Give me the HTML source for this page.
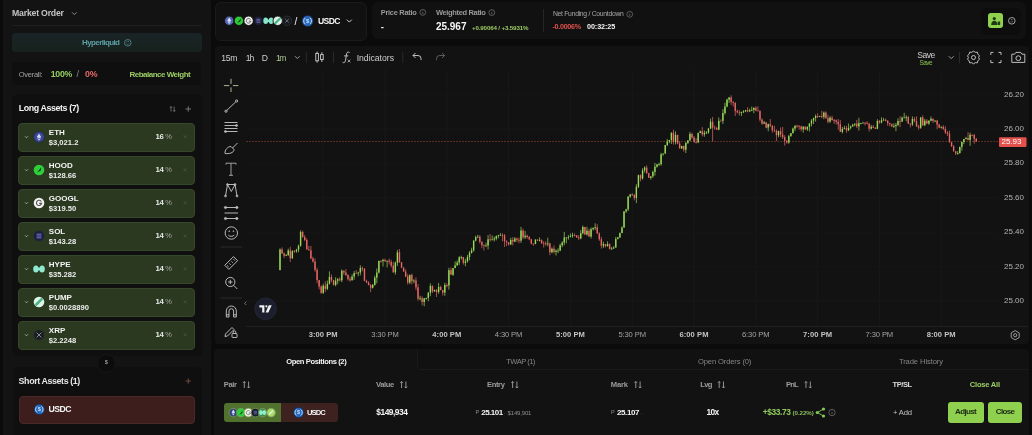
<!DOCTYPE html>
<html><head><meta charset="utf-8"><title>Pair Trade</title>
<style>
*{margin:0;padding:0;box-sizing:border-box}
html,body{width:1032px;height:435px;overflow:hidden;background:#0b0b0b;font-family:"Liberation Sans",Arial,sans-serif}
.a{position:absolute}
.t{position:absolute;white-space:pre;line-height:1}
svg{position:absolute;overflow:visible}
</style></head><body>

<!-- ============ LEFT PANEL ============ -->
<div class="a" style="left:3px;top:0;width:207.5px;height:435px;background:#131313"></div>
<div class="a" style="left:12px;top:25px;width:190px;height:1px;background:#1f1f1f"></div>
<div class="a" style="left:11.5px;top:32.5px;width:190px;height:19.8px;background:linear-gradient(#1a2427,#17221d);border-radius:4px"></div>
<div class="a" style="left:12px;top:62px;width:188.5px;height:22.5px;background:#0f0f0f;border-radius:4px"></div>
<div class="a" style="left:12px;top:94px;width:191px;height:262px;background:#0f0f0f;border-radius:6px"></div>
<div class="a" style="left:13px;top:367px;width:189px;height:68px;background:#0f0f0f;border-radius:6px 6px 0 0"></div>
<!-- cards -->
<div class="a" style="left:18px;top:122.5px;width:177px;height:29px;background:#2a391f;border:1px solid #37472b;border-radius:4px"></div>
<div class="a" style="left:18px;top:155.5px;width:177px;height:29px;background:#2a391f;border:1px solid #37472b;border-radius:4px"></div>
<div class="a" style="left:18px;top:188.5px;width:177px;height:29px;background:#2a391f;border:1px solid #37472b;border-radius:4px"></div>
<div class="a" style="left:18px;top:221.5px;width:177px;height:29px;background:#2a391f;border:1px solid #37472b;border-radius:4px"></div>
<div class="a" style="left:18px;top:254.5px;width:177px;height:29px;background:#2a391f;border:1px solid #37472b;border-radius:4px"></div>
<div class="a" style="left:18px;top:287.5px;width:177px;height:29px;background:#2a391f;border:1px solid #37472b;border-radius:4px"></div>
<div class="a" style="left:18px;top:320.5px;width:177px;height:29px;background:#2a391f;border:1px solid #37472b;border-radius:4px"></div>
<div class="a" style="left:18.5px;top:395.5px;width:176.5px;height:28px;background:#3d1e1c;border:1px solid #48282a;border-radius:4px"></div>
<!-- $ circle -->
<div class="a" style="left:97px;top:353.5px;width:19px;height:19px;border-radius:50%;background:#0c0c0c;border:1px solid #171717"></div>

<svg class="a" style="left:0;top:0" width="210" height="435" viewBox="0 0 210 435">
 <!-- market order chevron -->
 <path d="M72 12.3 L74.3 14.6 L76.6 12.3" fill="none" stroke="#9a9a9a" stroke-width="0.9"/>
 <!-- hyperliquid icon -->
 <circle cx="127.8" cy="42.8" r="3.3" fill="none" stroke="#4f8f92" stroke-width="0.8"/>
 <path d="M126.5 42.2 L127.8 40.9 L129.1 42.2 M126.5 43.4 L127.8 44.7 L129.1 43.4" fill="none" stroke="#4f8f92" stroke-width="0.7"/>
 <!-- sort + plus -->
 <path d="M171 106.5 V111.5 M169.8 107.7 L171 106.5 L172.2 107.7 M174.2 106.5 V111.5 M173 110.3 L174.2 111.5 L175.4 110.3" fill="none" stroke="#8a8a8a" stroke-width="0.7"/>
 <path d="M185.5 109 H191 M188.25 106.3 V111.7" stroke="#8a8a8a" stroke-width="0.8"/>
 <path d="M185.5 381 H191 M188.25 378.3 V383.7" stroke="#8a5048" stroke-width="0.8"/>
 <!-- card chevrons and x -->
 <g fill="none" stroke="#b8c2ae" stroke-width="0.8">
  <path d="M25 136.3 L26.5 137.8 L28 136.3"/><path d="M25 169.3 L26.5 170.8 L28 169.3"/><path d="M25 202.3 L26.5 203.8 L28 202.3"/><path d="M25 235.3 L26.5 236.8 L28 235.3"/><path d="M25 268.3 L26.5 269.8 L28 268.3"/><path d="M25 301.3 L26.5 302.8 L28 301.3"/><path d="M25 334.3 L26.5 335.8 L28 334.3"/>
 </g>
 <g fill="none" stroke="#4d5a43" stroke-width="0.7">
  <path d="M183.6 135.3 L186.6 138.3 M186.6 135.3 L183.6 138.3"/>
  <path d="M183.6 168.3 L186.6 171.3 M186.6 168.3 L183.6 171.3"/>
  <path d="M183.6 201.3 L186.6 204.3 M186.6 201.3 L183.6 204.3"/>
  <path d="M183.6 234.3 L186.6 237.3 M186.6 234.3 L183.6 237.3"/>
  <path d="M183.6 267.3 L186.6 270.3 M186.6 267.3 L183.6 270.3"/>
  <path d="M183.6 300.3 L186.6 303.3 M186.6 300.3 L183.6 303.3"/>
  <path d="M183.6 333.3 L186.6 336.3 M186.6 333.3 L183.6 336.3"/>
 </g>
 <!-- asset icons -->
 <!-- ETH -->
 <circle cx="39" cy="137" r="5.4" fill="#3d4892" stroke="#1f2544" stroke-width="0.8"/>
 <path d="M39 133.4 L41.2 137 L39 138.3 L36.8 137 Z M39 138.9 L41.2 137.6 L39 140.7 L36.8 137.6 Z" fill="#cfd6ff"/>
 <!-- HOOD -->
 <circle cx="39" cy="170" r="5.3" fill="#2fcf3c"/>
 <path d="M37 172.5 L41.3 167.2 L40.8 170.5 Z" fill="#0d3a10"/>
 <!-- GOOGL -->
 <circle cx="39" cy="203" r="5.3" fill="#f2f2f2"/>
 <path d="M41.3 201.6 A2.6 2.6 0 1 0 41.6 203.4 H39.2" fill="none" stroke="#555" stroke-width="1.1"/>
 <!-- SOL -->
 <circle cx="39" cy="236" r="5.3" fill="#1b2240"/>
 <path d="M36.6 234.2 H41.4 M36.6 236 H41.4 M36.6 237.8 H41.4" stroke="#8c7ce0" stroke-width="0.9"/>
 <!-- HYPE -->
 <g fill="#8fe8cf"><ellipse cx="35.9" cy="269" rx="2.7" ry="3.5"/><ellipse cx="42.1" cy="269" rx="2.7" ry="3.5"/><rect x="35.9" y="267.6" width="6.2" height="2.8"/></g>
 <!-- PUMP -->
 <circle cx="39" cy="302" r="5.3" fill="#dff5ea"/>
 <path d="M36.3 304.5 L41.7 299.1" stroke="#4fb286" stroke-width="2.6" stroke-linecap="round"/>
 <!-- XRP -->
 <circle cx="39" cy="335" r="5.3" fill="#1a1d21" stroke="#333" stroke-width="0.6"/>
 <path d="M36.6 332.6 L41.4 337.4 M41.4 332.6 L36.6 337.4" stroke="#9aa" stroke-width="0.8"/>
 <!-- USDC -->
 <circle cx="39.3" cy="409.4" r="5.3" fill="#2766b8" stroke="#15243d" stroke-width="0.7"/><path d="M37.17 406.36 A3.71 3.71 0 0 0 37.17 412.44 M41.43 406.36 A3.71 3.71 0 0 1 41.43 412.44" fill="none" stroke="#c4e0ff" stroke-width="0.9"/><text x="39.3" y="411.31" text-anchor="middle" font-family="Liberation Sans" font-weight="bold" font-size="5.57" fill="#c4e0ff">$</text>
</svg>

<!-- ============ TOP BAR ============ -->
<div class="a" style="left:214.5px;top:2px;width:152px;height:38.5px;background:#111111;border:1px solid #1a1a1a;border-radius:6px"></div>
<div class="a" style="left:372px;top:2px;width:654px;height:36.5px;background:#111111;border-radius:6px"></div>
<div class="a" style="left:543px;top:9px;width:1px;height:23px;background:#262626"></div>
<div class="a" style="left:981px;top:7.5px;width:40px;height:27px;background:#0d0d0d;border-radius:6px"></div>
<div class="a" style="left:988px;top:13.4px;width:15px;height:14.6px;background:#8fd14f;border-radius:3px"></div>
<svg class="a" style="left:0;top:0" width="1032" height="45" viewBox="0 0 1032 45">
 <!-- pair icons -->
 <g stroke="#121212" stroke-width="0.9">
 <circle cx="229.2" cy="20.8" r="4.7" fill="#5867b6"/>
 <circle cx="238.9" cy="20.8" r="4.7" fill="#2ec83a"/>
 <circle cx="248.6" cy="20.8" r="4.7" fill="#f0f0f0"/>
 <circle cx="258.3" cy="20.8" r="4.7" fill="#1b2137"/>
 </g>
 <path d="M229.2 17.6 L231.1 20.8 L229.2 21.9 L227.3 20.8 Z M229.2 22.5 L231.1 21.3 L229.2 24 L227.3 21.3 Z" fill="#dfe4ff"/>
 <path d="M237.2 23 L240.9 18.4 L240.5 21.3 Z" fill="#0c3b10"/>
 <path d="M250.6 19.6 A2.3 2.3 0 1 0 250.9 21.2 H248.8" fill="none" stroke="#666" stroke-width="1"/>
 <path d="M256.4 19.3 H260.2 M256.4 20.8 H260.2 M256.4 22.3 H260.2" stroke="#7d74cf" stroke-width="0.8"/>
 <g fill="#86e6cb"><ellipse cx="265.7" cy="20.8" rx="2.4" ry="3.2"/><ellipse cx="271.1" cy="20.8" rx="2.4" ry="3.2"/><rect x="265.7" y="19.6" width="5.4" height="2.4"/></g>
 <circle cx="277.7" cy="20.8" r="4.7" fill="#dff3ea" stroke="#121212" stroke-width="0.9"/>
 <path d="M275.6 22.9 L279.8 18.7" stroke="#4db584" stroke-width="2.2" stroke-linecap="round"/>
 <circle cx="287" cy="20.8" r="4.7" fill="#15181c" stroke="#3a3f44" stroke-width="0.6"/>
 <path d="M285.2 19 L288.8 22.6 M288.8 19 L285.2 22.6" stroke="#8c9399" stroke-width="0.7"/>
 <!-- usdc -->
 <circle cx="307.6" cy="21.0" r="5.6" fill="#2766b8" stroke="#15243d" stroke-width="0.7"/><path d="M305.35 17.79 A3.92 3.92 0 0 0 305.35 24.21 M309.85 17.79 A3.92 3.92 0 0 1 309.85 24.21" fill="none" stroke="#c4e0ff" stroke-width="0.9"/><text x="307.6" y="23.02" text-anchor="middle" font-family="Liberation Sans" font-weight="bold" font-size="5.88" fill="#c4e0ff">$</text>
 <path d="M346.8 19.6 L349.3 22.1 L351.8 19.6" fill="none" stroke="#d0d0d0" stroke-width="1"/>
 <!-- info icons -->
 <g fill="none" stroke="#8a8a8a" stroke-width="0.6">
  <circle cx="422.8" cy="12.4" r="2.9"/><path d="M422.8 11.8 V14 M422.8 10.7 V11"/>
  <circle cx="491.8" cy="12.6" r="2.9"/><path d="M491.8 12 V14.2 M491.8 10.9 V11.2"/>
  <circle cx="629.7" cy="14.3" r="2.9"/><path d="M629.7 13.7 V15.9 M629.7 12.6 V12.9"/>
 </g>
 <!-- green button icon -->
 <g fill="#1f3a12"><circle cx="994.3" cy="18.6" r="1.6"/><path d="M991.2 25 C991.2 21.8 992.6 20.8 994.3 20.8 C996 20.8 997.4 21.8 997.4 25 Z"/><rect x="997.6" y="21.6" width="2.6" height="3.4" rx="0.4"/></g>
 <!-- updown circle -->
 <circle cx="1011.8" cy="20.8" r="3.3" fill="none" stroke="#c4c4c4" stroke-width="0.8"/>
 <path d="M1010.9 20.2 L1011.8 19.3 L1012.7 20.2 M1010.9 21.4 L1011.8 22.3 L1012.7 21.4" fill="none" stroke="#c4c4c4" stroke-width="0.6"/>
</svg>

<!-- ============ CHART PANEL ============ -->
<div class="a" style="left:214.5px;top:45.5px;width:814px;height:298.5px;background:#121213;border-radius:4px"></div>
<div class="a" style="left:246px;top:326px;width:782px;height:1px;background:#202022"></div>
<svg class="a" style="left:0;top:0" width="1032" height="345" viewBox="0 0 1032 345">
<line x1="323.2" y1="70" x2="323.2" y2="326" stroke="#19191b" stroke-width="1"/>
<line x1="385.0" y1="70" x2="385.0" y2="326" stroke="#19191b" stroke-width="1"/>
<line x1="446.8" y1="70" x2="446.8" y2="326" stroke="#19191b" stroke-width="1"/>
<line x1="508.6" y1="70" x2="508.6" y2="326" stroke="#19191b" stroke-width="1"/>
<line x1="570.4" y1="70" x2="570.4" y2="326" stroke="#19191b" stroke-width="1"/>
<line x1="632.2" y1="70" x2="632.2" y2="326" stroke="#19191b" stroke-width="1"/>
<line x1="694.0" y1="70" x2="694.0" y2="326" stroke="#19191b" stroke-width="1"/>
<line x1="755.8" y1="70" x2="755.8" y2="326" stroke="#19191b" stroke-width="1"/>
<line x1="817.6" y1="70" x2="817.6" y2="326" stroke="#19191b" stroke-width="1"/>
<line x1="879.4" y1="70" x2="879.4" y2="326" stroke="#19191b" stroke-width="1"/>
<line x1="941.2" y1="70" x2="941.2" y2="326" stroke="#19191b" stroke-width="1"/>
<line x1="246" y1="94.6" x2="998" y2="94.6" stroke="#171719" stroke-width="1"/>
<line x1="246" y1="129.0" x2="998" y2="129.0" stroke="#171719" stroke-width="1"/>
<line x1="246" y1="163.4" x2="998" y2="163.4" stroke="#171719" stroke-width="1"/>
<line x1="246" y1="198.0" x2="998" y2="198.0" stroke="#171719" stroke-width="1"/>
<line x1="246" y1="232.2" x2="998" y2="232.2" stroke="#171719" stroke-width="1"/>
<line x1="246" y1="266.6" x2="998" y2="266.6" stroke="#171719" stroke-width="1"/>
<line x1="246" y1="301.0" x2="998" y2="301.0" stroke="#171719" stroke-width="1"/>
 <!-- price line -->
 <line x1="246" y1="141.5" x2="998" y2="141.5" stroke="#5a2e24" stroke-width="1" stroke-dasharray="2 1"/>
<line x1="280.00" y1="248.37" x2="280.00" y2="270.50" stroke="#98d957" stroke-width="0.7"/>
<rect x="279.30" y="249.50" width="1.4" height="20.50" fill="#98d957"/>
<line x1="282.06" y1="247.45" x2="282.06" y2="253.91" stroke="#e66764" stroke-width="0.7"/>
<rect x="281.36" y="249.50" width="1.4" height="3.94" fill="#e66764"/>
<line x1="284.12" y1="252.51" x2="284.12" y2="257.96" stroke="#e66764" stroke-width="0.7"/>
<rect x="283.42" y="253.44" width="1.4" height="2.24" fill="#e66764"/>
<line x1="286.18" y1="254.11" x2="286.18" y2="256.09" stroke="#98d957" stroke-width="0.7"/>
<rect x="285.48" y="254.98" width="1.4" height="0.80" fill="#98d957"/>
<line x1="288.24" y1="248.61" x2="288.24" y2="256.09" stroke="#98d957" stroke-width="0.7"/>
<rect x="287.54" y="250.50" width="1.4" height="4.48" fill="#98d957"/>
<line x1="290.30" y1="246.77" x2="290.30" y2="262.06" stroke="#e66764" stroke-width="0.7"/>
<rect x="289.60" y="250.50" width="1.4" height="7.73" fill="#e66764"/>
<line x1="292.36" y1="250.17" x2="292.36" y2="258.89" stroke="#98d957" stroke-width="0.7"/>
<rect x="291.66" y="251.20" width="1.4" height="7.02" fill="#98d957"/>
<line x1="294.42" y1="250.06" x2="294.42" y2="252.71" stroke="#e66764" stroke-width="0.7"/>
<rect x="293.72" y="251.20" width="1.4" height="0.80" fill="#e66764"/>
<line x1="296.48" y1="248.81" x2="296.48" y2="252.75" stroke="#98d957" stroke-width="0.7"/>
<rect x="295.78" y="249.68" width="1.4" height="1.61" fill="#98d957"/>
<line x1="298.54" y1="244.57" x2="298.54" y2="252.31" stroke="#98d957" stroke-width="0.7"/>
<rect x="297.84" y="245.80" width="1.4" height="3.89" fill="#98d957"/>
<line x1="300.60" y1="230.39" x2="300.60" y2="246.55" stroke="#98d957" stroke-width="0.7"/>
<rect x="299.90" y="232.01" width="1.4" height="13.78" fill="#98d957"/>
<line x1="302.66" y1="230.62" x2="302.66" y2="237.64" stroke="#e66764" stroke-width="0.7"/>
<rect x="301.96" y="232.01" width="1.4" height="5.08" fill="#e66764"/>
<line x1="304.72" y1="234.99" x2="304.72" y2="241.15" stroke="#e66764" stroke-width="0.7"/>
<rect x="304.02" y="237.09" width="1.4" height="2.92" fill="#e66764"/>
<line x1="306.78" y1="238.23" x2="306.78" y2="249.81" stroke="#e66764" stroke-width="0.7"/>
<rect x="306.08" y="240.01" width="1.4" height="9.26" fill="#e66764"/>
<line x1="308.84" y1="245.99" x2="308.84" y2="250.44" stroke="#e66764" stroke-width="0.7"/>
<rect x="308.14" y="249.27" width="1.4" height="1.06" fill="#e66764"/>
<line x1="310.90" y1="245.90" x2="310.90" y2="259.19" stroke="#e66764" stroke-width="0.7"/>
<rect x="310.20" y="250.33" width="1.4" height="8.15" fill="#e66764"/>
<line x1="312.96" y1="256.68" x2="312.96" y2="262.61" stroke="#e66764" stroke-width="0.7"/>
<rect x="312.26" y="258.48" width="1.4" height="3.03" fill="#e66764"/>
<line x1="315.02" y1="258.29" x2="315.02" y2="271.70" stroke="#e66764" stroke-width="0.7"/>
<rect x="314.32" y="261.51" width="1.4" height="8.37" fill="#e66764"/>
<line x1="317.08" y1="267.80" x2="317.08" y2="283.27" stroke="#e66764" stroke-width="0.7"/>
<rect x="316.38" y="269.88" width="1.4" height="10.22" fill="#e66764"/>
<line x1="319.14" y1="279.84" x2="319.14" y2="289.39" stroke="#e66764" stroke-width="0.7"/>
<rect x="318.44" y="280.10" width="1.4" height="6.43" fill="#e66764"/>
<line x1="321.20" y1="285.19" x2="321.20" y2="293.83" stroke="#e66764" stroke-width="0.7"/>
<rect x="320.50" y="286.53" width="1.4" height="6.30" fill="#e66764"/>
<line x1="323.26" y1="283.67" x2="323.26" y2="294.00" stroke="#98d957" stroke-width="0.7"/>
<rect x="322.56" y="285.80" width="1.4" height="7.03" fill="#98d957"/>
<line x1="325.32" y1="281.33" x2="325.32" y2="292.03" stroke="#e66764" stroke-width="0.7"/>
<rect x="324.62" y="285.80" width="1.4" height="3.02" fill="#e66764"/>
<line x1="327.38" y1="280.59" x2="327.38" y2="290.10" stroke="#98d957" stroke-width="0.7"/>
<rect x="326.68" y="283.77" width="1.4" height="5.06" fill="#98d957"/>
<line x1="329.44" y1="271.38" x2="329.44" y2="284.55" stroke="#98d957" stroke-width="0.7"/>
<rect x="328.74" y="276.92" width="1.4" height="6.85" fill="#98d957"/>
<line x1="331.50" y1="274.46" x2="331.50" y2="282.29" stroke="#e66764" stroke-width="0.7"/>
<rect x="330.80" y="276.92" width="1.4" height="3.22" fill="#e66764"/>
<line x1="333.56" y1="279.80" x2="333.56" y2="285.51" stroke="#e66764" stroke-width="0.7"/>
<rect x="332.86" y="280.14" width="1.4" height="4.82" fill="#e66764"/>
<line x1="335.62" y1="277.26" x2="335.62" y2="286.33" stroke="#98d957" stroke-width="0.7"/>
<rect x="334.92" y="280.77" width="1.4" height="4.20" fill="#98d957"/>
<line x1="337.68" y1="278.00" x2="337.68" y2="284.22" stroke="#98d957" stroke-width="0.7"/>
<rect x="336.98" y="279.21" width="1.4" height="1.56" fill="#98d957"/>
<line x1="339.74" y1="277.11" x2="339.74" y2="281.44" stroke="#e66764" stroke-width="0.7"/>
<rect x="339.04" y="279.21" width="1.4" height="1.07" fill="#e66764"/>
<line x1="341.80" y1="269.37" x2="341.80" y2="282.13" stroke="#98d957" stroke-width="0.7"/>
<rect x="341.10" y="270.76" width="1.4" height="9.51" fill="#98d957"/>
<line x1="343.86" y1="270.36" x2="343.86" y2="274.76" stroke="#e66764" stroke-width="0.7"/>
<rect x="343.16" y="270.76" width="1.4" height="1.76" fill="#e66764"/>
<line x1="345.92" y1="268.98" x2="345.92" y2="276.20" stroke="#e66764" stroke-width="0.7"/>
<rect x="345.22" y="272.52" width="1.4" height="2.47" fill="#e66764"/>
<line x1="347.98" y1="274.27" x2="347.98" y2="280.55" stroke="#e66764" stroke-width="0.7"/>
<rect x="347.28" y="274.99" width="1.4" height="4.13" fill="#e66764"/>
<line x1="350.04" y1="276.60" x2="350.04" y2="281.80" stroke="#e66764" stroke-width="0.7"/>
<rect x="349.34" y="279.12" width="1.4" height="1.23" fill="#e66764"/>
<line x1="352.10" y1="274.28" x2="352.10" y2="280.40" stroke="#98d957" stroke-width="0.7"/>
<rect x="351.40" y="276.57" width="1.4" height="3.77" fill="#98d957"/>
<line x1="354.16" y1="270.99" x2="354.16" y2="279.80" stroke="#98d957" stroke-width="0.7"/>
<rect x="353.46" y="273.08" width="1.4" height="3.50" fill="#98d957"/>
<line x1="356.22" y1="270.04" x2="356.22" y2="273.39" stroke="#e66764" stroke-width="0.7"/>
<rect x="355.52" y="273.08" width="1.4" height="0.80" fill="#e66764"/>
<line x1="358.28" y1="271.84" x2="358.28" y2="276.19" stroke="#98d957" stroke-width="0.7"/>
<rect x="357.58" y="272.50" width="1.4" height="0.80" fill="#98d957"/>
<line x1="360.34" y1="265.27" x2="360.34" y2="275.29" stroke="#98d957" stroke-width="0.7"/>
<rect x="359.64" y="268.04" width="1.4" height="4.46" fill="#98d957"/>
<line x1="362.40" y1="266.65" x2="362.40" y2="271.30" stroke="#e66764" stroke-width="0.7"/>
<rect x="361.70" y="268.04" width="1.4" height="0.80" fill="#e66764"/>
<line x1="364.46" y1="268.06" x2="364.46" y2="281.26" stroke="#e66764" stroke-width="0.7"/>
<rect x="363.76" y="268.81" width="1.4" height="12.13" fill="#e66764"/>
<line x1="366.52" y1="279.68" x2="366.52" y2="282.90" stroke="#e66764" stroke-width="0.7"/>
<rect x="365.82" y="280.95" width="1.4" height="1.57" fill="#e66764"/>
<line x1="368.58" y1="281.25" x2="368.58" y2="285.18" stroke="#e66764" stroke-width="0.7"/>
<rect x="367.88" y="282.51" width="1.4" height="2.66" fill="#e66764"/>
<line x1="370.64" y1="283.93" x2="370.64" y2="292.19" stroke="#e66764" stroke-width="0.7"/>
<rect x="369.94" y="285.18" width="1.4" height="2.59" fill="#e66764"/>
<line x1="372.70" y1="284.00" x2="372.70" y2="288.58" stroke="#98d957" stroke-width="0.7"/>
<rect x="372.00" y="284.94" width="1.4" height="2.82" fill="#98d957"/>
<line x1="374.76" y1="275.65" x2="374.76" y2="285.68" stroke="#98d957" stroke-width="0.7"/>
<rect x="374.06" y="277.68" width="1.4" height="7.26" fill="#98d957"/>
<line x1="376.82" y1="268.53" x2="376.82" y2="283.32" stroke="#98d957" stroke-width="0.7"/>
<rect x="376.12" y="272.57" width="1.4" height="5.11" fill="#98d957"/>
<line x1="378.88" y1="260.51" x2="378.88" y2="273.45" stroke="#98d957" stroke-width="0.7"/>
<rect x="378.18" y="261.04" width="1.4" height="11.53" fill="#98d957"/>
<line x1="380.94" y1="260.09" x2="380.94" y2="262.58" stroke="#e66764" stroke-width="0.7"/>
<rect x="380.24" y="261.04" width="1.4" height="0.80" fill="#e66764"/>
<line x1="383.00" y1="258.75" x2="383.00" y2="266.48" stroke="#98d957" stroke-width="0.7"/>
<rect x="382.30" y="259.90" width="1.4" height="1.23" fill="#98d957"/>
<line x1="385.06" y1="258.68" x2="385.06" y2="261.59" stroke="#e66764" stroke-width="0.7"/>
<rect x="384.36" y="259.90" width="1.4" height="1.47" fill="#e66764"/>
<line x1="387.12" y1="260.61" x2="387.12" y2="267.37" stroke="#98d957" stroke-width="0.7"/>
<rect x="386.42" y="260.75" width="1.4" height="0.80" fill="#98d957"/>
<line x1="389.18" y1="258.53" x2="389.18" y2="264.43" stroke="#e66764" stroke-width="0.7"/>
<rect x="388.48" y="260.75" width="1.4" height="1.11" fill="#e66764"/>
<line x1="391.24" y1="259.76" x2="391.24" y2="267.56" stroke="#e66764" stroke-width="0.7"/>
<rect x="390.54" y="261.86" width="1.4" height="3.82" fill="#e66764"/>
<line x1="393.30" y1="261.93" x2="393.30" y2="273.02" stroke="#e66764" stroke-width="0.7"/>
<rect x="392.60" y="265.67" width="1.4" height="6.57" fill="#e66764"/>
<line x1="395.36" y1="261.41" x2="395.36" y2="274.65" stroke="#98d957" stroke-width="0.7"/>
<rect x="394.66" y="262.78" width="1.4" height="9.47" fill="#98d957"/>
<line x1="397.42" y1="249.88" x2="397.42" y2="265.96" stroke="#98d957" stroke-width="0.7"/>
<rect x="396.72" y="252.27" width="1.4" height="10.50" fill="#98d957"/>
<line x1="399.48" y1="248.99" x2="399.48" y2="262.75" stroke="#e66764" stroke-width="0.7"/>
<rect x="398.78" y="252.27" width="1.4" height="10.08" fill="#e66764"/>
<line x1="401.54" y1="262.03" x2="401.54" y2="268.09" stroke="#e66764" stroke-width="0.7"/>
<rect x="400.84" y="262.36" width="1.4" height="5.31" fill="#e66764"/>
<line x1="403.60" y1="267.36" x2="403.60" y2="271.75" stroke="#e66764" stroke-width="0.7"/>
<rect x="402.90" y="267.67" width="1.4" height="3.88" fill="#e66764"/>
<line x1="405.66" y1="269.24" x2="405.66" y2="277.21" stroke="#e66764" stroke-width="0.7"/>
<rect x="404.96" y="271.55" width="1.4" height="5.02" fill="#e66764"/>
<line x1="407.72" y1="274.04" x2="407.72" y2="284.52" stroke="#e66764" stroke-width="0.7"/>
<rect x="407.02" y="276.57" width="1.4" height="5.94" fill="#e66764"/>
<line x1="409.78" y1="274.64" x2="409.78" y2="284.06" stroke="#98d957" stroke-width="0.7"/>
<rect x="409.08" y="274.93" width="1.4" height="7.58" fill="#98d957"/>
<line x1="411.84" y1="273.52" x2="411.84" y2="284.49" stroke="#e66764" stroke-width="0.7"/>
<rect x="411.14" y="274.93" width="1.4" height="6.20" fill="#e66764"/>
<line x1="413.90" y1="279.18" x2="413.90" y2="283.25" stroke="#98d957" stroke-width="0.7"/>
<rect x="413.20" y="280.53" width="1.4" height="0.80" fill="#98d957"/>
<line x1="415.96" y1="277.30" x2="415.96" y2="290.14" stroke="#e66764" stroke-width="0.7"/>
<rect x="415.26" y="280.53" width="1.4" height="6.83" fill="#e66764"/>
<line x1="418.02" y1="284.11" x2="418.02" y2="300.76" stroke="#e66764" stroke-width="0.7"/>
<rect x="417.32" y="287.35" width="1.4" height="11.34" fill="#e66764"/>
<line x1="420.08" y1="295.77" x2="420.08" y2="300.38" stroke="#98d957" stroke-width="0.7"/>
<rect x="419.38" y="298.28" width="1.4" height="0.80" fill="#98d957"/>
<line x1="422.14" y1="296.32" x2="422.14" y2="305.40" stroke="#e66764" stroke-width="0.7"/>
<rect x="421.44" y="298.28" width="1.4" height="3.69" fill="#e66764"/>
<line x1="424.20" y1="297.94" x2="424.20" y2="306.31" stroke="#98d957" stroke-width="0.7"/>
<rect x="423.50" y="298.33" width="1.4" height="3.64" fill="#98d957"/>
<line x1="426.26" y1="297.74" x2="426.26" y2="299.65" stroke="#98d957" stroke-width="0.7"/>
<rect x="425.56" y="297.95" width="1.4" height="0.80" fill="#98d957"/>
<line x1="428.32" y1="291.99" x2="428.32" y2="301.25" stroke="#98d957" stroke-width="0.7"/>
<rect x="427.62" y="292.89" width="1.4" height="5.06" fill="#98d957"/>
<line x1="430.38" y1="283.38" x2="430.38" y2="296.17" stroke="#98d957" stroke-width="0.7"/>
<rect x="429.68" y="285.88" width="1.4" height="7.02" fill="#98d957"/>
<line x1="432.44" y1="285.48" x2="432.44" y2="292.96" stroke="#e66764" stroke-width="0.7"/>
<rect x="431.74" y="285.88" width="1.4" height="5.44" fill="#e66764"/>
<line x1="434.50" y1="289.61" x2="434.50" y2="291.59" stroke="#98d957" stroke-width="0.7"/>
<rect x="433.80" y="289.86" width="1.4" height="1.46" fill="#98d957"/>
<line x1="436.56" y1="289.28" x2="436.56" y2="297.03" stroke="#e66764" stroke-width="0.7"/>
<rect x="435.86" y="289.86" width="1.4" height="2.12" fill="#e66764"/>
<line x1="438.62" y1="282.93" x2="438.62" y2="293.78" stroke="#98d957" stroke-width="0.7"/>
<rect x="437.92" y="287.01" width="1.4" height="4.97" fill="#98d957"/>
<line x1="440.68" y1="285.66" x2="440.68" y2="290.11" stroke="#e66764" stroke-width="0.7"/>
<rect x="439.98" y="287.01" width="1.4" height="3.08" fill="#e66764"/>
<line x1="442.74" y1="289.91" x2="442.74" y2="295.48" stroke="#e66764" stroke-width="0.7"/>
<rect x="442.04" y="290.09" width="1.4" height="2.47" fill="#e66764"/>
<line x1="444.80" y1="282.72" x2="444.80" y2="295.84" stroke="#98d957" stroke-width="0.7"/>
<rect x="444.10" y="285.00" width="1.4" height="7.56" fill="#98d957"/>
<line x1="446.86" y1="283.53" x2="446.86" y2="287.37" stroke="#e66764" stroke-width="0.7"/>
<rect x="446.16" y="285.00" width="1.4" height="0.80" fill="#e66764"/>
<line x1="448.92" y1="267.77" x2="448.92" y2="289.75" stroke="#98d957" stroke-width="0.7"/>
<rect x="448.22" y="270.16" width="1.4" height="15.27" fill="#98d957"/>
<line x1="450.98" y1="267.45" x2="450.98" y2="274.72" stroke="#e66764" stroke-width="0.7"/>
<rect x="450.28" y="270.16" width="1.4" height="4.54" fill="#e66764"/>
<line x1="453.04" y1="268.02" x2="453.04" y2="276.00" stroke="#98d957" stroke-width="0.7"/>
<rect x="452.34" y="268.09" width="1.4" height="6.61" fill="#98d957"/>
<line x1="455.10" y1="261.43" x2="455.10" y2="268.18" stroke="#98d957" stroke-width="0.7"/>
<rect x="454.40" y="265.37" width="1.4" height="2.72" fill="#98d957"/>
<line x1="457.16" y1="260.42" x2="457.16" y2="265.81" stroke="#98d957" stroke-width="0.7"/>
<rect x="456.46" y="262.62" width="1.4" height="2.75" fill="#98d957"/>
<line x1="459.22" y1="256.19" x2="459.22" y2="264.98" stroke="#98d957" stroke-width="0.7"/>
<rect x="458.52" y="257.41" width="1.4" height="5.21" fill="#98d957"/>
<line x1="461.28" y1="255.72" x2="461.28" y2="259.62" stroke="#98d957" stroke-width="0.7"/>
<rect x="460.58" y="257.03" width="1.4" height="0.80" fill="#98d957"/>
<line x1="463.34" y1="257.02" x2="463.34" y2="264.59" stroke="#e66764" stroke-width="0.7"/>
<rect x="462.64" y="257.03" width="1.4" height="5.79" fill="#e66764"/>
<line x1="465.40" y1="258.79" x2="465.40" y2="266.26" stroke="#98d957" stroke-width="0.7"/>
<rect x="464.70" y="261.38" width="1.4" height="1.44" fill="#98d957"/>
<line x1="467.46" y1="254.95" x2="467.46" y2="262.63" stroke="#98d957" stroke-width="0.7"/>
<rect x="466.76" y="256.98" width="1.4" height="4.41" fill="#98d957"/>
<line x1="469.52" y1="251.07" x2="469.52" y2="260.35" stroke="#98d957" stroke-width="0.7"/>
<rect x="468.82" y="252.76" width="1.4" height="4.21" fill="#98d957"/>
<line x1="471.58" y1="247.71" x2="471.58" y2="253.57" stroke="#98d957" stroke-width="0.7"/>
<rect x="470.88" y="250.31" width="1.4" height="2.46" fill="#98d957"/>
<line x1="473.64" y1="239.96" x2="473.64" y2="251.72" stroke="#98d957" stroke-width="0.7"/>
<rect x="472.94" y="240.69" width="1.4" height="9.62" fill="#98d957"/>
<line x1="475.70" y1="235.59" x2="475.70" y2="241.29" stroke="#98d957" stroke-width="0.7"/>
<rect x="475.00" y="237.18" width="1.4" height="3.50" fill="#98d957"/>
<line x1="477.76" y1="234.83" x2="477.76" y2="237.82" stroke="#98d957" stroke-width="0.7"/>
<rect x="477.06" y="236.75" width="1.4" height="0.80" fill="#98d957"/>
<line x1="479.82" y1="235.03" x2="479.82" y2="243.50" stroke="#e66764" stroke-width="0.7"/>
<rect x="479.12" y="236.75" width="1.4" height="5.10" fill="#e66764"/>
<line x1="481.88" y1="241.14" x2="481.88" y2="248.22" stroke="#e66764" stroke-width="0.7"/>
<rect x="481.18" y="241.86" width="1.4" height="3.43" fill="#e66764"/>
<line x1="483.94" y1="244.29" x2="483.94" y2="250.68" stroke="#e66764" stroke-width="0.7"/>
<rect x="483.24" y="245.28" width="1.4" height="0.81" fill="#e66764"/>
<line x1="486.00" y1="242.68" x2="486.00" y2="246.75" stroke="#98d957" stroke-width="0.7"/>
<rect x="485.30" y="245.56" width="1.4" height="0.80" fill="#98d957"/>
<line x1="488.06" y1="235.06" x2="488.06" y2="249.43" stroke="#98d957" stroke-width="0.7"/>
<rect x="487.36" y="239.33" width="1.4" height="6.23" fill="#98d957"/>
<line x1="490.12" y1="234.00" x2="490.12" y2="241.75" stroke="#e66764" stroke-width="0.7"/>
<rect x="489.42" y="239.33" width="1.4" height="0.80" fill="#e66764"/>
<line x1="492.18" y1="235.38" x2="492.18" y2="239.97" stroke="#98d957" stroke-width="0.7"/>
<rect x="491.48" y="239.53" width="1.4" height="0.80" fill="#98d957"/>
<line x1="494.24" y1="236.56" x2="494.24" y2="241.52" stroke="#98d957" stroke-width="0.7"/>
<rect x="493.54" y="238.54" width="1.4" height="0.98" fill="#98d957"/>
<line x1="496.30" y1="235.50" x2="496.30" y2="240.36" stroke="#98d957" stroke-width="0.7"/>
<rect x="495.60" y="236.15" width="1.4" height="2.40" fill="#98d957"/>
<line x1="498.36" y1="234.81" x2="498.36" y2="238.38" stroke="#98d957" stroke-width="0.7"/>
<rect x="497.66" y="235.24" width="1.4" height="0.90" fill="#98d957"/>
<line x1="500.42" y1="233.16" x2="500.42" y2="235.46" stroke="#98d957" stroke-width="0.7"/>
<rect x="499.72" y="235.12" width="1.4" height="0.80" fill="#98d957"/>
<line x1="502.48" y1="233.27" x2="502.48" y2="241.22" stroke="#e66764" stroke-width="0.7"/>
<rect x="501.78" y="235.12" width="1.4" height="0.80" fill="#e66764"/>
<line x1="504.54" y1="233.96" x2="504.54" y2="247.02" stroke="#e66764" stroke-width="0.7"/>
<rect x="503.84" y="235.36" width="1.4" height="5.96" fill="#e66764"/>
<line x1="506.60" y1="240.26" x2="506.60" y2="246.05" stroke="#e66764" stroke-width="0.7"/>
<rect x="505.90" y="241.32" width="1.4" height="1.03" fill="#e66764"/>
<line x1="508.66" y1="242.20" x2="508.66" y2="245.53" stroke="#e66764" stroke-width="0.7"/>
<rect x="507.96" y="242.35" width="1.4" height="2.03" fill="#e66764"/>
<line x1="510.72" y1="237.78" x2="510.72" y2="245.09" stroke="#98d957" stroke-width="0.7"/>
<rect x="510.02" y="240.05" width="1.4" height="4.33" fill="#98d957"/>
<line x1="512.78" y1="237.13" x2="512.78" y2="245.51" stroke="#e66764" stroke-width="0.7"/>
<rect x="512.08" y="240.05" width="1.4" height="1.48" fill="#e66764"/>
<line x1="514.84" y1="237.08" x2="514.84" y2="242.17" stroke="#98d957" stroke-width="0.7"/>
<rect x="514.14" y="238.55" width="1.4" height="2.98" fill="#98d957"/>
<line x1="516.90" y1="237.67" x2="516.90" y2="241.99" stroke="#e66764" stroke-width="0.7"/>
<rect x="516.20" y="238.55" width="1.4" height="1.30" fill="#e66764"/>
<line x1="518.96" y1="237.56" x2="518.96" y2="243.32" stroke="#e66764" stroke-width="0.7"/>
<rect x="518.26" y="239.85" width="1.4" height="0.85" fill="#e66764"/>
<line x1="521.02" y1="226.82" x2="521.02" y2="242.87" stroke="#98d957" stroke-width="0.7"/>
<rect x="520.32" y="230.57" width="1.4" height="10.13" fill="#98d957"/>
<line x1="523.08" y1="228.78" x2="523.08" y2="239.19" stroke="#e66764" stroke-width="0.7"/>
<rect x="522.38" y="230.57" width="1.4" height="6.70" fill="#e66764"/>
<line x1="525.14" y1="230.99" x2="525.14" y2="238.91" stroke="#98d957" stroke-width="0.7"/>
<rect x="524.44" y="235.74" width="1.4" height="1.53" fill="#98d957"/>
<line x1="527.20" y1="234.59" x2="527.20" y2="238.67" stroke="#e66764" stroke-width="0.7"/>
<rect x="526.50" y="235.74" width="1.4" height="1.32" fill="#e66764"/>
<line x1="529.26" y1="236.06" x2="529.26" y2="240.12" stroke="#e66764" stroke-width="0.7"/>
<rect x="528.56" y="237.06" width="1.4" height="2.22" fill="#e66764"/>
<line x1="531.32" y1="238.83" x2="531.32" y2="244.33" stroke="#e66764" stroke-width="0.7"/>
<rect x="530.62" y="239.29" width="1.4" height="4.33" fill="#e66764"/>
<line x1="533.38" y1="243.51" x2="533.38" y2="245.80" stroke="#e66764" stroke-width="0.7"/>
<rect x="532.68" y="243.62" width="1.4" height="0.80" fill="#e66764"/>
<line x1="535.44" y1="239.50" x2="535.44" y2="244.23" stroke="#98d957" stroke-width="0.7"/>
<rect x="534.74" y="239.50" width="1.4" height="4.49" fill="#98d957"/>
<line x1="537.50" y1="239.50" x2="537.50" y2="240.85" stroke="#e66764" stroke-width="0.7"/>
<rect x="536.80" y="239.50" width="1.4" height="0.96" fill="#e66764"/>
<line x1="539.56" y1="237.43" x2="539.56" y2="241.39" stroke="#98d957" stroke-width="0.7"/>
<rect x="538.86" y="240.20" width="1.4" height="0.80" fill="#98d957"/>
<line x1="541.62" y1="239.25" x2="541.62" y2="243.76" stroke="#e66764" stroke-width="0.7"/>
<rect x="540.92" y="240.20" width="1.4" height="3.14" fill="#e66764"/>
<line x1="543.68" y1="241.22" x2="543.68" y2="247.54" stroke="#e66764" stroke-width="0.7"/>
<rect x="542.98" y="243.35" width="1.4" height="0.80" fill="#e66764"/>
<line x1="545.74" y1="241.32" x2="545.74" y2="245.76" stroke="#e66764" stroke-width="0.7"/>
<rect x="545.04" y="243.37" width="1.4" height="0.80" fill="#e66764"/>
<line x1="547.80" y1="237.72" x2="547.80" y2="246.42" stroke="#98d957" stroke-width="0.7"/>
<rect x="547.10" y="243.51" width="1.4" height="0.80" fill="#98d957"/>
<line x1="549.86" y1="242.67" x2="549.86" y2="255.22" stroke="#e66764" stroke-width="0.7"/>
<rect x="549.16" y="243.51" width="1.4" height="8.70" fill="#e66764"/>
<line x1="551.92" y1="247.56" x2="551.92" y2="253.30" stroke="#98d957" stroke-width="0.7"/>
<rect x="551.22" y="248.70" width="1.4" height="3.50" fill="#98d957"/>
<line x1="553.98" y1="245.44" x2="553.98" y2="253.45" stroke="#e66764" stroke-width="0.7"/>
<rect x="553.28" y="248.70" width="1.4" height="3.19" fill="#e66764"/>
<line x1="556.04" y1="249.39" x2="556.04" y2="255.54" stroke="#98d957" stroke-width="0.7"/>
<rect x="555.34" y="250.70" width="1.4" height="1.19" fill="#98d957"/>
<line x1="558.10" y1="248.26" x2="558.10" y2="253.09" stroke="#98d957" stroke-width="0.7"/>
<rect x="557.40" y="250.51" width="1.4" height="0.80" fill="#98d957"/>
<line x1="560.16" y1="243.63" x2="560.16" y2="251.17" stroke="#98d957" stroke-width="0.7"/>
<rect x="559.46" y="245.23" width="1.4" height="5.28" fill="#98d957"/>
<line x1="562.22" y1="241.23" x2="562.22" y2="247.23" stroke="#98d957" stroke-width="0.7"/>
<rect x="561.52" y="242.54" width="1.4" height="2.69" fill="#98d957"/>
<line x1="564.28" y1="231.91" x2="564.28" y2="245.27" stroke="#98d957" stroke-width="0.7"/>
<rect x="563.58" y="237.51" width="1.4" height="5.03" fill="#98d957"/>
<line x1="566.34" y1="237.31" x2="566.34" y2="243.22" stroke="#98d957" stroke-width="0.7"/>
<rect x="565.64" y="237.50" width="1.4" height="0.80" fill="#98d957"/>
<line x1="568.40" y1="234.97" x2="568.40" y2="239.66" stroke="#98d957" stroke-width="0.7"/>
<rect x="567.70" y="236.89" width="1.4" height="0.80" fill="#98d957"/>
<line x1="570.46" y1="233.48" x2="570.46" y2="237.30" stroke="#98d957" stroke-width="0.7"/>
<rect x="569.76" y="236.05" width="1.4" height="0.84" fill="#98d957"/>
<line x1="572.52" y1="232.73" x2="572.52" y2="237.77" stroke="#98d957" stroke-width="0.7"/>
<rect x="571.82" y="235.21" width="1.4" height="0.84" fill="#98d957"/>
<line x1="574.58" y1="233.33" x2="574.58" y2="236.51" stroke="#e66764" stroke-width="0.7"/>
<rect x="573.88" y="235.21" width="1.4" height="0.80" fill="#e66764"/>
<line x1="576.64" y1="235.20" x2="576.64" y2="237.92" stroke="#e66764" stroke-width="0.7"/>
<rect x="575.94" y="235.32" width="1.4" height="2.07" fill="#e66764"/>
<line x1="578.70" y1="235.07" x2="578.70" y2="239.74" stroke="#e66764" stroke-width="0.7"/>
<rect x="578.00" y="237.39" width="1.4" height="0.97" fill="#e66764"/>
<line x1="580.76" y1="229.96" x2="580.76" y2="239.31" stroke="#98d957" stroke-width="0.7"/>
<rect x="580.06" y="233.18" width="1.4" height="5.17" fill="#98d957"/>
<line x1="582.82" y1="225.49" x2="582.82" y2="234.43" stroke="#98d957" stroke-width="0.7"/>
<rect x="582.12" y="226.99" width="1.4" height="6.19" fill="#98d957"/>
<line x1="584.88" y1="226.87" x2="584.88" y2="234.97" stroke="#e66764" stroke-width="0.7"/>
<rect x="584.18" y="226.99" width="1.4" height="7.47" fill="#e66764"/>
<line x1="586.94" y1="226.72" x2="586.94" y2="235.60" stroke="#98d957" stroke-width="0.7"/>
<rect x="586.24" y="230.74" width="1.4" height="3.72" fill="#98d957"/>
<line x1="589.00" y1="228.80" x2="589.00" y2="236.92" stroke="#e66764" stroke-width="0.7"/>
<rect x="588.30" y="230.74" width="1.4" height="5.77" fill="#e66764"/>
<line x1="591.06" y1="227.46" x2="591.06" y2="238.57" stroke="#98d957" stroke-width="0.7"/>
<rect x="590.36" y="229.18" width="1.4" height="7.34" fill="#98d957"/>
<line x1="593.12" y1="227.65" x2="593.12" y2="230.57" stroke="#98d957" stroke-width="0.7"/>
<rect x="592.42" y="227.76" width="1.4" height="1.42" fill="#98d957"/>
<line x1="595.18" y1="223.26" x2="595.18" y2="230.11" stroke="#98d957" stroke-width="0.7"/>
<rect x="594.48" y="227.27" width="1.4" height="0.80" fill="#98d957"/>
<line x1="597.24" y1="224.19" x2="597.24" y2="233.65" stroke="#e66764" stroke-width="0.7"/>
<rect x="596.54" y="227.27" width="1.4" height="6.31" fill="#e66764"/>
<line x1="599.30" y1="232.19" x2="599.30" y2="240.86" stroke="#e66764" stroke-width="0.7"/>
<rect x="598.60" y="233.58" width="1.4" height="5.73" fill="#e66764"/>
<line x1="601.36" y1="236.75" x2="601.36" y2="248.61" stroke="#e66764" stroke-width="0.7"/>
<rect x="600.66" y="239.31" width="1.4" height="6.41" fill="#e66764"/>
<line x1="603.42" y1="241.76" x2="603.42" y2="248.09" stroke="#98d957" stroke-width="0.7"/>
<rect x="602.72" y="244.09" width="1.4" height="1.63" fill="#98d957"/>
<line x1="605.48" y1="244.08" x2="605.48" y2="247.38" stroke="#e66764" stroke-width="0.7"/>
<rect x="604.78" y="244.09" width="1.4" height="2.21" fill="#e66764"/>
<line x1="607.54" y1="241.35" x2="607.54" y2="246.35" stroke="#98d957" stroke-width="0.7"/>
<rect x="606.84" y="244.07" width="1.4" height="2.23" fill="#98d957"/>
<line x1="609.60" y1="243.39" x2="609.60" y2="249.28" stroke="#e66764" stroke-width="0.7"/>
<rect x="608.90" y="244.07" width="1.4" height="5.07" fill="#e66764"/>
<line x1="611.66" y1="246.92" x2="611.66" y2="249.92" stroke="#98d957" stroke-width="0.7"/>
<rect x="610.96" y="248.46" width="1.4" height="0.80" fill="#98d957"/>
<line x1="613.72" y1="246.06" x2="613.72" y2="248.84" stroke="#98d957" stroke-width="0.7"/>
<rect x="613.02" y="247.53" width="1.4" height="0.93" fill="#98d957"/>
<line x1="615.78" y1="236.85" x2="615.78" y2="247.62" stroke="#98d957" stroke-width="0.7"/>
<rect x="615.08" y="239.00" width="1.4" height="8.53" fill="#98d957"/>
<line x1="617.84" y1="236.96" x2="617.84" y2="239.33" stroke="#98d957" stroke-width="0.7"/>
<rect x="617.14" y="237.40" width="1.4" height="1.60" fill="#98d957"/>
<line x1="619.90" y1="232.51" x2="619.90" y2="238.09" stroke="#98d957" stroke-width="0.7"/>
<rect x="619.20" y="233.06" width="1.4" height="4.34" fill="#98d957"/>
<line x1="621.96" y1="226.23" x2="621.96" y2="233.14" stroke="#98d957" stroke-width="0.7"/>
<rect x="621.26" y="227.58" width="1.4" height="5.48" fill="#98d957"/>
<line x1="624.02" y1="211.06" x2="624.02" y2="227.72" stroke="#98d957" stroke-width="0.7"/>
<rect x="623.32" y="211.38" width="1.4" height="16.20" fill="#98d957"/>
<line x1="626.08" y1="208.80" x2="626.08" y2="212.97" stroke="#98d957" stroke-width="0.7"/>
<rect x="625.38" y="209.44" width="1.4" height="1.94" fill="#98d957"/>
<line x1="628.14" y1="195.91" x2="628.14" y2="211.07" stroke="#98d957" stroke-width="0.7"/>
<rect x="627.44" y="196.73" width="1.4" height="12.72" fill="#98d957"/>
<line x1="630.20" y1="194.11" x2="630.20" y2="197.81" stroke="#98d957" stroke-width="0.7"/>
<rect x="629.50" y="194.36" width="1.4" height="2.36" fill="#98d957"/>
<line x1="632.26" y1="193.21" x2="632.26" y2="195.77" stroke="#e66764" stroke-width="0.7"/>
<rect x="631.56" y="194.36" width="1.4" height="0.80" fill="#e66764"/>
<line x1="634.32" y1="194.15" x2="634.32" y2="200.34" stroke="#e66764" stroke-width="0.7"/>
<rect x="633.62" y="194.86" width="1.4" height="3.05" fill="#e66764"/>
<line x1="636.38" y1="184.26" x2="636.38" y2="203.14" stroke="#98d957" stroke-width="0.7"/>
<rect x="635.68" y="186.72" width="1.4" height="11.19" fill="#98d957"/>
<line x1="638.44" y1="174.63" x2="638.44" y2="188.04" stroke="#98d957" stroke-width="0.7"/>
<rect x="637.74" y="175.17" width="1.4" height="11.55" fill="#98d957"/>
<line x1="640.50" y1="174.46" x2="640.50" y2="181.33" stroke="#e66764" stroke-width="0.7"/>
<rect x="639.80" y="175.17" width="1.4" height="3.34" fill="#e66764"/>
<line x1="642.56" y1="168.22" x2="642.56" y2="179.63" stroke="#98d957" stroke-width="0.7"/>
<rect x="641.86" y="170.30" width="1.4" height="8.21" fill="#98d957"/>
<line x1="644.62" y1="166.41" x2="644.62" y2="172.67" stroke="#98d957" stroke-width="0.7"/>
<rect x="643.92" y="167.53" width="1.4" height="2.77" fill="#98d957"/>
<line x1="646.68" y1="165.29" x2="646.68" y2="173.77" stroke="#e66764" stroke-width="0.7"/>
<rect x="645.98" y="167.53" width="1.4" height="5.69" fill="#e66764"/>
<line x1="648.74" y1="172.73" x2="648.74" y2="177.90" stroke="#e66764" stroke-width="0.7"/>
<rect x="648.04" y="173.22" width="1.4" height="4.63" fill="#e66764"/>
<line x1="650.80" y1="176.30" x2="650.80" y2="179.63" stroke="#98d957" stroke-width="0.7"/>
<rect x="650.10" y="176.36" width="1.4" height="1.50" fill="#98d957"/>
<line x1="652.86" y1="170.63" x2="652.86" y2="177.92" stroke="#98d957" stroke-width="0.7"/>
<rect x="652.16" y="171.91" width="1.4" height="4.44" fill="#98d957"/>
<line x1="654.92" y1="162.91" x2="654.92" y2="175.58" stroke="#98d957" stroke-width="0.7"/>
<rect x="654.22" y="166.76" width="1.4" height="5.15" fill="#98d957"/>
<line x1="656.98" y1="163.84" x2="656.98" y2="167.71" stroke="#98d957" stroke-width="0.7"/>
<rect x="656.28" y="164.43" width="1.4" height="2.33" fill="#98d957"/>
<line x1="659.04" y1="162.61" x2="659.04" y2="165.92" stroke="#98d957" stroke-width="0.7"/>
<rect x="658.34" y="164.16" width="1.4" height="0.80" fill="#98d957"/>
<line x1="661.10" y1="152.73" x2="661.10" y2="165.74" stroke="#98d957" stroke-width="0.7"/>
<rect x="660.40" y="154.26" width="1.4" height="9.90" fill="#98d957"/>
<line x1="663.16" y1="153.45" x2="663.16" y2="155.75" stroke="#98d957" stroke-width="0.7"/>
<rect x="662.46" y="153.47" width="1.4" height="0.80" fill="#98d957"/>
<line x1="665.22" y1="144.93" x2="665.22" y2="154.15" stroke="#98d957" stroke-width="0.7"/>
<rect x="664.52" y="145.03" width="1.4" height="8.43" fill="#98d957"/>
<line x1="667.28" y1="139.09" x2="667.28" y2="146.18" stroke="#98d957" stroke-width="0.7"/>
<rect x="666.58" y="141.58" width="1.4" height="3.45" fill="#98d957"/>
<line x1="669.34" y1="140.07" x2="669.34" y2="143.31" stroke="#98d957" stroke-width="0.7"/>
<rect x="668.64" y="140.08" width="1.4" height="1.50" fill="#98d957"/>
<line x1="671.40" y1="132.56" x2="671.40" y2="143.93" stroke="#98d957" stroke-width="0.7"/>
<rect x="670.70" y="132.66" width="1.4" height="7.42" fill="#98d957"/>
<line x1="673.46" y1="129.65" x2="673.46" y2="144.49" stroke="#e66764" stroke-width="0.7"/>
<rect x="672.76" y="132.66" width="1.4" height="9.16" fill="#e66764"/>
<line x1="675.52" y1="131.30" x2="675.52" y2="144.41" stroke="#98d957" stroke-width="0.7"/>
<rect x="674.82" y="134.87" width="1.4" height="6.95" fill="#98d957"/>
<line x1="677.58" y1="134.74" x2="677.58" y2="144.19" stroke="#e66764" stroke-width="0.7"/>
<rect x="676.88" y="134.87" width="1.4" height="8.63" fill="#e66764"/>
<line x1="679.64" y1="141.11" x2="679.64" y2="148.42" stroke="#e66764" stroke-width="0.7"/>
<rect x="678.94" y="143.50" width="1.4" height="4.87" fill="#e66764"/>
<line x1="681.70" y1="145.83" x2="681.70" y2="149.05" stroke="#98d957" stroke-width="0.7"/>
<rect x="681.00" y="145.99" width="1.4" height="2.38" fill="#98d957"/>
<line x1="683.76" y1="145.48" x2="683.76" y2="151.63" stroke="#e66764" stroke-width="0.7"/>
<rect x="683.06" y="145.99" width="1.4" height="3.66" fill="#e66764"/>
<line x1="685.82" y1="141.95" x2="685.82" y2="153.09" stroke="#98d957" stroke-width="0.7"/>
<rect x="685.12" y="143.02" width="1.4" height="6.62" fill="#98d957"/>
<line x1="687.88" y1="140.17" x2="687.88" y2="144.06" stroke="#98d957" stroke-width="0.7"/>
<rect x="687.18" y="140.42" width="1.4" height="2.60" fill="#98d957"/>
<line x1="689.94" y1="131.89" x2="689.94" y2="141.20" stroke="#98d957" stroke-width="0.7"/>
<rect x="689.24" y="133.95" width="1.4" height="6.47" fill="#98d957"/>
<line x1="692.00" y1="132.82" x2="692.00" y2="138.80" stroke="#e66764" stroke-width="0.7"/>
<rect x="691.30" y="133.95" width="1.4" height="3.60" fill="#e66764"/>
<line x1="694.06" y1="136.00" x2="694.06" y2="142.26" stroke="#e66764" stroke-width="0.7"/>
<rect x="693.36" y="137.55" width="1.4" height="4.69" fill="#e66764"/>
<line x1="696.12" y1="138.13" x2="696.12" y2="143.45" stroke="#e66764" stroke-width="0.7"/>
<rect x="695.42" y="142.24" width="1.4" height="0.80" fill="#e66764"/>
<line x1="698.18" y1="132.72" x2="698.18" y2="143.20" stroke="#98d957" stroke-width="0.7"/>
<rect x="697.48" y="133.06" width="1.4" height="9.25" fill="#98d957"/>
<line x1="700.24" y1="130.48" x2="700.24" y2="133.17" stroke="#98d957" stroke-width="0.7"/>
<rect x="699.54" y="131.28" width="1.4" height="1.77" fill="#98d957"/>
<line x1="702.30" y1="127.12" x2="702.30" y2="136.36" stroke="#e66764" stroke-width="0.7"/>
<rect x="701.60" y="131.28" width="1.4" height="3.13" fill="#e66764"/>
<line x1="704.36" y1="130.51" x2="704.36" y2="136.71" stroke="#98d957" stroke-width="0.7"/>
<rect x="703.66" y="132.78" width="1.4" height="1.63" fill="#98d957"/>
<line x1="706.42" y1="131.09" x2="706.42" y2="134.18" stroke="#98d957" stroke-width="0.7"/>
<rect x="705.72" y="132.52" width="1.4" height="0.80" fill="#98d957"/>
<line x1="708.48" y1="127.88" x2="708.48" y2="133.63" stroke="#98d957" stroke-width="0.7"/>
<rect x="707.78" y="128.56" width="1.4" height="3.96" fill="#98d957"/>
<line x1="710.54" y1="118.67" x2="710.54" y2="128.62" stroke="#98d957" stroke-width="0.7"/>
<rect x="709.84" y="121.77" width="1.4" height="6.79" fill="#98d957"/>
<line x1="712.60" y1="117.00" x2="712.60" y2="141.50" stroke="#e66764" stroke-width="0.7"/>
<rect x="711.90" y="121.77" width="1.4" height="5.80" fill="#e66764"/>
<line x1="714.66" y1="125.63" x2="714.66" y2="129.55" stroke="#e66764" stroke-width="0.7"/>
<rect x="713.96" y="127.56" width="1.4" height="0.80" fill="#e66764"/>
<line x1="716.72" y1="126.92" x2="716.72" y2="129.95" stroke="#e66764" stroke-width="0.7"/>
<rect x="716.02" y="128.14" width="1.4" height="1.49" fill="#e66764"/>
<line x1="718.78" y1="117.45" x2="718.78" y2="130.32" stroke="#98d957" stroke-width="0.7"/>
<rect x="718.08" y="120.84" width="1.4" height="8.79" fill="#98d957"/>
<line x1="720.84" y1="119.32" x2="720.84" y2="120.92" stroke="#e66764" stroke-width="0.7"/>
<rect x="720.14" y="120.84" width="1.4" height="0.80" fill="#e66764"/>
<line x1="722.90" y1="109.17" x2="722.90" y2="124.05" stroke="#98d957" stroke-width="0.7"/>
<rect x="722.20" y="113.07" width="1.4" height="7.81" fill="#98d957"/>
<line x1="724.96" y1="102.66" x2="724.96" y2="114.71" stroke="#98d957" stroke-width="0.7"/>
<rect x="724.26" y="106.51" width="1.4" height="6.56" fill="#98d957"/>
<line x1="727.02" y1="98.69" x2="727.02" y2="107.32" stroke="#98d957" stroke-width="0.7"/>
<rect x="726.32" y="99.67" width="1.4" height="6.84" fill="#98d957"/>
<line x1="729.08" y1="97.02" x2="729.08" y2="102.96" stroke="#98d957" stroke-width="0.7"/>
<rect x="728.38" y="97.49" width="1.4" height="2.18" fill="#98d957"/>
<line x1="731.14" y1="95.24" x2="731.14" y2="104.92" stroke="#e66764" stroke-width="0.7"/>
<rect x="730.44" y="97.49" width="1.4" height="4.44" fill="#e66764"/>
<line x1="733.20" y1="101.19" x2="733.20" y2="106.55" stroke="#e66764" stroke-width="0.7"/>
<rect x="732.50" y="101.93" width="1.4" height="0.89" fill="#e66764"/>
<line x1="735.26" y1="102.28" x2="735.26" y2="115.97" stroke="#e66764" stroke-width="0.7"/>
<rect x="734.56" y="102.83" width="1.4" height="8.23" fill="#e66764"/>
<line x1="737.32" y1="109.57" x2="737.32" y2="113.49" stroke="#e66764" stroke-width="0.7"/>
<rect x="736.62" y="111.06" width="1.4" height="1.27" fill="#e66764"/>
<line x1="739.38" y1="110.10" x2="739.38" y2="115.62" stroke="#e66764" stroke-width="0.7"/>
<rect x="738.68" y="112.33" width="1.4" height="0.80" fill="#e66764"/>
<line x1="741.44" y1="111.57" x2="741.44" y2="115.92" stroke="#98d957" stroke-width="0.7"/>
<rect x="740.74" y="112.12" width="1.4" height="0.93" fill="#98d957"/>
<line x1="743.50" y1="110.16" x2="743.50" y2="113.13" stroke="#98d957" stroke-width="0.7"/>
<rect x="742.80" y="111.35" width="1.4" height="0.80" fill="#98d957"/>
<line x1="745.56" y1="109.95" x2="745.56" y2="112.13" stroke="#98d957" stroke-width="0.7"/>
<rect x="744.86" y="110.14" width="1.4" height="1.21" fill="#98d957"/>
<line x1="747.62" y1="107.08" x2="747.62" y2="112.34" stroke="#e66764" stroke-width="0.7"/>
<rect x="746.92" y="110.14" width="1.4" height="1.40" fill="#e66764"/>
<line x1="749.68" y1="108.64" x2="749.68" y2="111.69" stroke="#98d957" stroke-width="0.7"/>
<rect x="748.98" y="110.31" width="1.4" height="1.23" fill="#98d957"/>
<line x1="751.74" y1="106.62" x2="751.74" y2="111.15" stroke="#98d957" stroke-width="0.7"/>
<rect x="751.04" y="109.95" width="1.4" height="0.80" fill="#98d957"/>
<line x1="753.80" y1="107.38" x2="753.80" y2="113.25" stroke="#98d957" stroke-width="0.7"/>
<rect x="753.10" y="107.81" width="1.4" height="2.14" fill="#98d957"/>
<line x1="755.86" y1="106.32" x2="755.86" y2="111.34" stroke="#e66764" stroke-width="0.7"/>
<rect x="755.16" y="107.81" width="1.4" height="2.71" fill="#e66764"/>
<line x1="757.92" y1="106.17" x2="757.92" y2="111.29" stroke="#e66764" stroke-width="0.7"/>
<rect x="757.22" y="110.52" width="1.4" height="0.80" fill="#e66764"/>
<line x1="759.98" y1="110.00" x2="759.98" y2="121.59" stroke="#e66764" stroke-width="0.7"/>
<rect x="759.28" y="111.21" width="1.4" height="8.42" fill="#e66764"/>
<line x1="762.04" y1="118.30" x2="762.04" y2="124.78" stroke="#e66764" stroke-width="0.7"/>
<rect x="761.34" y="119.63" width="1.4" height="4.10" fill="#e66764"/>
<line x1="764.10" y1="120.88" x2="764.10" y2="123.78" stroke="#98d957" stroke-width="0.7"/>
<rect x="763.40" y="122.37" width="1.4" height="1.36" fill="#98d957"/>
<line x1="766.16" y1="122.01" x2="766.16" y2="128.31" stroke="#e66764" stroke-width="0.7"/>
<rect x="765.46" y="122.37" width="1.4" height="5.25" fill="#e66764"/>
<line x1="768.22" y1="123.55" x2="768.22" y2="131.29" stroke="#98d957" stroke-width="0.7"/>
<rect x="767.52" y="124.21" width="1.4" height="3.42" fill="#98d957"/>
<line x1="770.28" y1="119.01" x2="770.28" y2="127.09" stroke="#e66764" stroke-width="0.7"/>
<rect x="769.58" y="124.21" width="1.4" height="1.46" fill="#e66764"/>
<line x1="772.34" y1="125.29" x2="772.34" y2="132.64" stroke="#e66764" stroke-width="0.7"/>
<rect x="771.64" y="125.68" width="1.4" height="4.71" fill="#e66764"/>
<line x1="774.40" y1="125.77" x2="774.40" y2="132.07" stroke="#e66764" stroke-width="0.7"/>
<rect x="773.70" y="130.39" width="1.4" height="0.80" fill="#e66764"/>
<line x1="776.46" y1="129.36" x2="776.46" y2="141.03" stroke="#e66764" stroke-width="0.7"/>
<rect x="775.76" y="130.73" width="1.4" height="4.51" fill="#e66764"/>
<line x1="778.52" y1="130.57" x2="778.52" y2="137.29" stroke="#98d957" stroke-width="0.7"/>
<rect x="777.82" y="131.13" width="1.4" height="4.11" fill="#98d957"/>
<line x1="780.58" y1="127.47" x2="780.58" y2="137.24" stroke="#e66764" stroke-width="0.7"/>
<rect x="779.88" y="131.13" width="1.4" height="3.38" fill="#e66764"/>
<line x1="782.64" y1="126.94" x2="782.64" y2="139.00" stroke="#e66764" stroke-width="0.7"/>
<rect x="781.94" y="134.51" width="1.4" height="2.70" fill="#e66764"/>
<line x1="784.70" y1="135.18" x2="784.70" y2="145.60" stroke="#e66764" stroke-width="0.7"/>
<rect x="784.00" y="137.21" width="1.4" height="3.65" fill="#e66764"/>
<line x1="786.76" y1="140.31" x2="786.76" y2="143.56" stroke="#e66764" stroke-width="0.7"/>
<rect x="786.06" y="140.87" width="1.4" height="1.60" fill="#e66764"/>
<line x1="788.82" y1="134.79" x2="788.82" y2="143.87" stroke="#98d957" stroke-width="0.7"/>
<rect x="788.12" y="136.18" width="1.4" height="6.28" fill="#98d957"/>
<line x1="790.88" y1="133.02" x2="790.88" y2="136.56" stroke="#98d957" stroke-width="0.7"/>
<rect x="790.18" y="133.16" width="1.4" height="3.02" fill="#98d957"/>
<line x1="792.94" y1="127.49" x2="792.94" y2="133.47" stroke="#98d957" stroke-width="0.7"/>
<rect x="792.24" y="128.58" width="1.4" height="4.59" fill="#98d957"/>
<line x1="795.00" y1="125.39" x2="795.00" y2="131.11" stroke="#98d957" stroke-width="0.7"/>
<rect x="794.30" y="125.73" width="1.4" height="2.85" fill="#98d957"/>
<line x1="797.06" y1="124.70" x2="797.06" y2="127.93" stroke="#e66764" stroke-width="0.7"/>
<rect x="796.36" y="125.73" width="1.4" height="0.80" fill="#e66764"/>
<line x1="799.12" y1="125.07" x2="799.12" y2="129.84" stroke="#e66764" stroke-width="0.7"/>
<rect x="798.42" y="125.83" width="1.4" height="0.80" fill="#e66764"/>
<line x1="801.18" y1="125.66" x2="801.18" y2="131.24" stroke="#e66764" stroke-width="0.7"/>
<rect x="800.48" y="126.39" width="1.4" height="2.88" fill="#e66764"/>
<line x1="803.24" y1="126.31" x2="803.24" y2="132.68" stroke="#98d957" stroke-width="0.7"/>
<rect x="802.54" y="126.63" width="1.4" height="2.64" fill="#98d957"/>
<line x1="805.30" y1="126.57" x2="805.30" y2="130.01" stroke="#e66764" stroke-width="0.7"/>
<rect x="804.60" y="126.63" width="1.4" height="2.74" fill="#e66764"/>
<line x1="807.36" y1="126.56" x2="807.36" y2="130.86" stroke="#98d957" stroke-width="0.7"/>
<rect x="806.66" y="126.73" width="1.4" height="2.64" fill="#98d957"/>
<line x1="809.42" y1="123.40" x2="809.42" y2="131.44" stroke="#98d957" stroke-width="0.7"/>
<rect x="808.72" y="123.48" width="1.4" height="3.26" fill="#98d957"/>
<line x1="811.48" y1="119.11" x2="811.48" y2="126.42" stroke="#98d957" stroke-width="0.7"/>
<rect x="810.78" y="120.59" width="1.4" height="2.88" fill="#98d957"/>
<line x1="813.54" y1="117.73" x2="813.54" y2="124.08" stroke="#98d957" stroke-width="0.7"/>
<rect x="812.84" y="118.00" width="1.4" height="2.59" fill="#98d957"/>
<line x1="815.60" y1="114.39" x2="815.60" y2="121.69" stroke="#98d957" stroke-width="0.7"/>
<rect x="814.90" y="116.00" width="1.4" height="2.00" fill="#98d957"/>
<line x1="817.66" y1="113.30" x2="817.66" y2="118.00" stroke="#e66764" stroke-width="0.7"/>
<rect x="816.96" y="116.00" width="1.4" height="0.80" fill="#e66764"/>
<line x1="819.72" y1="115.83" x2="819.72" y2="116.69" stroke="#98d957" stroke-width="0.7"/>
<rect x="819.02" y="116.00" width="1.4" height="0.80" fill="#98d957"/>
<line x1="821.78" y1="110.74" x2="821.78" y2="118.32" stroke="#e66764" stroke-width="0.7"/>
<rect x="821.08" y="116.00" width="1.4" height="0.85" fill="#e66764"/>
<line x1="823.84" y1="111.53" x2="823.84" y2="119.17" stroke="#98d957" stroke-width="0.7"/>
<rect x="823.14" y="112.62" width="1.4" height="4.23" fill="#98d957"/>
<line x1="825.90" y1="111.37" x2="825.90" y2="118.77" stroke="#e66764" stroke-width="0.7"/>
<rect x="825.20" y="112.62" width="1.4" height="5.53" fill="#e66764"/>
<line x1="827.96" y1="114.75" x2="827.96" y2="123.32" stroke="#e66764" stroke-width="0.7"/>
<rect x="827.26" y="118.16" width="1.4" height="3.49" fill="#e66764"/>
<line x1="830.02" y1="116.20" x2="830.02" y2="122.87" stroke="#98d957" stroke-width="0.7"/>
<rect x="829.32" y="117.73" width="1.4" height="3.92" fill="#98d957"/>
<line x1="832.08" y1="115.84" x2="832.08" y2="120.37" stroke="#e66764" stroke-width="0.7"/>
<rect x="831.38" y="117.73" width="1.4" height="2.46" fill="#e66764"/>
<line x1="834.14" y1="118.99" x2="834.14" y2="123.73" stroke="#e66764" stroke-width="0.7"/>
<rect x="833.44" y="120.19" width="1.4" height="0.80" fill="#e66764"/>
<line x1="836.20" y1="119.45" x2="836.20" y2="124.54" stroke="#e66764" stroke-width="0.7"/>
<rect x="835.50" y="120.25" width="1.4" height="1.56" fill="#e66764"/>
<line x1="838.26" y1="118.99" x2="838.26" y2="129.75" stroke="#e66764" stroke-width="0.7"/>
<rect x="837.56" y="121.82" width="1.4" height="2.46" fill="#e66764"/>
<line x1="840.32" y1="119.90" x2="840.32" y2="131.98" stroke="#e66764" stroke-width="0.7"/>
<rect x="839.62" y="124.27" width="1.4" height="7.62" fill="#e66764"/>
<line x1="842.38" y1="126.88" x2="842.38" y2="133.36" stroke="#98d957" stroke-width="0.7"/>
<rect x="841.68" y="129.00" width="1.4" height="2.89" fill="#98d957"/>
<line x1="844.44" y1="125.86" x2="844.44" y2="129.23" stroke="#98d957" stroke-width="0.7"/>
<rect x="843.74" y="128.18" width="1.4" height="0.82" fill="#98d957"/>
<line x1="846.50" y1="125.79" x2="846.50" y2="132.70" stroke="#e66764" stroke-width="0.7"/>
<rect x="845.80" y="128.18" width="1.4" height="2.26" fill="#e66764"/>
<line x1="848.56" y1="123.55" x2="848.56" y2="131.01" stroke="#98d957" stroke-width="0.7"/>
<rect x="847.86" y="127.81" width="1.4" height="2.63" fill="#98d957"/>
<line x1="850.62" y1="125.48" x2="850.62" y2="129.35" stroke="#98d957" stroke-width="0.7"/>
<rect x="849.92" y="126.47" width="1.4" height="1.34" fill="#98d957"/>
<line x1="852.68" y1="123.86" x2="852.68" y2="126.58" stroke="#98d957" stroke-width="0.7"/>
<rect x="851.98" y="124.73" width="1.4" height="1.75" fill="#98d957"/>
<line x1="854.74" y1="123.59" x2="854.74" y2="126.38" stroke="#98d957" stroke-width="0.7"/>
<rect x="854.04" y="123.62" width="1.4" height="1.11" fill="#98d957"/>
<line x1="856.80" y1="119.86" x2="856.80" y2="128.09" stroke="#e66764" stroke-width="0.7"/>
<rect x="856.10" y="123.62" width="1.4" height="2.75" fill="#e66764"/>
<line x1="858.86" y1="117.70" x2="858.86" y2="130.55" stroke="#98d957" stroke-width="0.7"/>
<rect x="858.16" y="123.16" width="1.4" height="3.21" fill="#98d957"/>
<line x1="860.92" y1="122.94" x2="860.92" y2="124.31" stroke="#98d957" stroke-width="0.7"/>
<rect x="860.22" y="123.01" width="1.4" height="0.80" fill="#98d957"/>
<line x1="862.98" y1="121.75" x2="862.98" y2="123.07" stroke="#98d957" stroke-width="0.7"/>
<rect x="862.28" y="122.77" width="1.4" height="0.80" fill="#98d957"/>
<line x1="865.04" y1="122.13" x2="865.04" y2="125.50" stroke="#e66764" stroke-width="0.7"/>
<rect x="864.34" y="122.77" width="1.4" height="0.80" fill="#e66764"/>
<line x1="867.10" y1="121.09" x2="867.10" y2="124.27" stroke="#e66764" stroke-width="0.7"/>
<rect x="866.40" y="122.87" width="1.4" height="0.95" fill="#e66764"/>
<line x1="869.16" y1="122.84" x2="869.16" y2="131.53" stroke="#e66764" stroke-width="0.7"/>
<rect x="868.46" y="123.81" width="1.4" height="4.85" fill="#e66764"/>
<line x1="871.22" y1="124.83" x2="871.22" y2="129.56" stroke="#98d957" stroke-width="0.7"/>
<rect x="870.52" y="126.75" width="1.4" height="1.91" fill="#98d957"/>
<line x1="873.28" y1="124.96" x2="873.28" y2="128.05" stroke="#e66764" stroke-width="0.7"/>
<rect x="872.58" y="126.75" width="1.4" height="1.07" fill="#e66764"/>
<line x1="875.34" y1="126.84" x2="875.34" y2="129.14" stroke="#e66764" stroke-width="0.7"/>
<rect x="874.64" y="127.82" width="1.4" height="0.98" fill="#e66764"/>
<line x1="877.40" y1="119.22" x2="877.40" y2="129.22" stroke="#98d957" stroke-width="0.7"/>
<rect x="876.70" y="120.96" width="1.4" height="7.83" fill="#98d957"/>
<line x1="879.46" y1="120.02" x2="879.46" y2="123.71" stroke="#e66764" stroke-width="0.7"/>
<rect x="878.76" y="120.96" width="1.4" height="1.59" fill="#e66764"/>
<line x1="881.52" y1="117.32" x2="881.52" y2="123.41" stroke="#98d957" stroke-width="0.7"/>
<rect x="880.82" y="120.30" width="1.4" height="2.26" fill="#98d957"/>
<line x1="883.58" y1="117.84" x2="883.58" y2="120.44" stroke="#98d957" stroke-width="0.7"/>
<rect x="882.88" y="119.80" width="1.4" height="0.80" fill="#98d957"/>
<line x1="885.64" y1="118.53" x2="885.64" y2="121.42" stroke="#e66764" stroke-width="0.7"/>
<rect x="884.94" y="119.80" width="1.4" height="1.06" fill="#e66764"/>
<line x1="887.70" y1="120.07" x2="887.70" y2="125.83" stroke="#e66764" stroke-width="0.7"/>
<rect x="887.00" y="120.85" width="1.4" height="2.32" fill="#e66764"/>
<line x1="889.76" y1="122.78" x2="889.76" y2="126.37" stroke="#e66764" stroke-width="0.7"/>
<rect x="889.06" y="123.17" width="1.4" height="1.00" fill="#e66764"/>
<line x1="891.82" y1="123.56" x2="891.82" y2="127.15" stroke="#e66764" stroke-width="0.7"/>
<rect x="891.12" y="124.17" width="1.4" height="2.24" fill="#e66764"/>
<line x1="893.88" y1="123.22" x2="893.88" y2="127.93" stroke="#98d957" stroke-width="0.7"/>
<rect x="893.18" y="126.12" width="1.4" height="0.80" fill="#98d957"/>
<line x1="895.94" y1="122.96" x2="895.94" y2="131.21" stroke="#98d957" stroke-width="0.7"/>
<rect x="895.24" y="124.89" width="1.4" height="1.23" fill="#98d957"/>
<line x1="898.00" y1="118.38" x2="898.00" y2="126.32" stroke="#98d957" stroke-width="0.7"/>
<rect x="897.30" y="121.01" width="1.4" height="3.88" fill="#98d957"/>
<line x1="900.06" y1="116.13" x2="900.06" y2="127.17" stroke="#e66764" stroke-width="0.7"/>
<rect x="899.36" y="121.01" width="1.4" height="0.80" fill="#e66764"/>
<line x1="902.12" y1="116.62" x2="902.12" y2="121.79" stroke="#98d957" stroke-width="0.7"/>
<rect x="901.42" y="117.72" width="1.4" height="3.86" fill="#98d957"/>
<line x1="904.18" y1="112.81" x2="904.18" y2="117.89" stroke="#98d957" stroke-width="0.7"/>
<rect x="903.48" y="117.55" width="1.4" height="0.80" fill="#98d957"/>
<line x1="906.24" y1="115.26" x2="906.24" y2="121.34" stroke="#98d957" stroke-width="0.7"/>
<rect x="905.54" y="117.14" width="1.4" height="0.80" fill="#98d957"/>
<line x1="908.30" y1="115.87" x2="908.30" y2="123.95" stroke="#e66764" stroke-width="0.7"/>
<rect x="907.60" y="117.14" width="1.4" height="6.49" fill="#e66764"/>
<line x1="910.36" y1="123.37" x2="910.36" y2="127.42" stroke="#e66764" stroke-width="0.7"/>
<rect x="909.66" y="123.63" width="1.4" height="0.80" fill="#e66764"/>
<line x1="912.42" y1="116.36" x2="912.42" y2="125.99" stroke="#98d957" stroke-width="0.7"/>
<rect x="911.72" y="118.96" width="1.4" height="5.40" fill="#98d957"/>
<line x1="914.48" y1="117.07" x2="914.48" y2="122.33" stroke="#e66764" stroke-width="0.7"/>
<rect x="913.78" y="118.96" width="1.4" height="2.28" fill="#e66764"/>
<line x1="916.54" y1="116.27" x2="916.54" y2="127.01" stroke="#e66764" stroke-width="0.7"/>
<rect x="915.84" y="121.24" width="1.4" height="5.11" fill="#e66764"/>
<line x1="918.60" y1="124.74" x2="918.60" y2="129.69" stroke="#e66764" stroke-width="0.7"/>
<rect x="917.90" y="126.35" width="1.4" height="1.40" fill="#e66764"/>
<line x1="920.66" y1="117.06" x2="920.66" y2="128.83" stroke="#98d957" stroke-width="0.7"/>
<rect x="919.96" y="117.43" width="1.4" height="10.32" fill="#98d957"/>
<line x1="922.72" y1="115.33" x2="922.72" y2="126.01" stroke="#e66764" stroke-width="0.7"/>
<rect x="922.02" y="117.43" width="1.4" height="7.85" fill="#e66764"/>
<line x1="924.78" y1="118.82" x2="924.78" y2="126.26" stroke="#98d957" stroke-width="0.7"/>
<rect x="924.08" y="120.77" width="1.4" height="4.52" fill="#98d957"/>
<line x1="926.84" y1="119.03" x2="926.84" y2="124.09" stroke="#e66764" stroke-width="0.7"/>
<rect x="926.14" y="120.77" width="1.4" height="2.74" fill="#e66764"/>
<line x1="928.90" y1="120.32" x2="928.90" y2="125.02" stroke="#98d957" stroke-width="0.7"/>
<rect x="928.20" y="120.67" width="1.4" height="2.83" fill="#98d957"/>
<line x1="930.96" y1="116.40" x2="930.96" y2="121.34" stroke="#98d957" stroke-width="0.7"/>
<rect x="930.26" y="118.81" width="1.4" height="1.86" fill="#98d957"/>
<line x1="933.02" y1="118.36" x2="933.02" y2="123.06" stroke="#e66764" stroke-width="0.7"/>
<rect x="932.32" y="118.81" width="1.4" height="2.08" fill="#e66764"/>
<line x1="935.08" y1="120.34" x2="935.08" y2="122.07" stroke="#98d957" stroke-width="0.7"/>
<rect x="934.38" y="120.59" width="1.4" height="0.80" fill="#98d957"/>
<line x1="937.14" y1="119.85" x2="937.14" y2="129.26" stroke="#e66764" stroke-width="0.7"/>
<rect x="936.44" y="120.59" width="1.4" height="4.04" fill="#e66764"/>
<line x1="939.20" y1="123.90" x2="939.20" y2="127.71" stroke="#e66764" stroke-width="0.7"/>
<rect x="938.50" y="124.62" width="1.4" height="3.06" fill="#e66764"/>
<line x1="941.26" y1="126.30" x2="941.26" y2="128.62" stroke="#98d957" stroke-width="0.7"/>
<rect x="940.56" y="126.88" width="1.4" height="0.81" fill="#98d957"/>
<line x1="943.32" y1="125.25" x2="943.32" y2="130.13" stroke="#e66764" stroke-width="0.7"/>
<rect x="942.62" y="126.88" width="1.4" height="1.94" fill="#e66764"/>
<line x1="945.38" y1="126.27" x2="945.38" y2="133.90" stroke="#e66764" stroke-width="0.7"/>
<rect x="944.68" y="128.82" width="1.4" height="3.68" fill="#e66764"/>
<line x1="947.44" y1="131.05" x2="947.44" y2="135.91" stroke="#e66764" stroke-width="0.7"/>
<rect x="946.74" y="132.50" width="1.4" height="1.18" fill="#e66764"/>
<line x1="949.50" y1="130.66" x2="949.50" y2="142.65" stroke="#e66764" stroke-width="0.7"/>
<rect x="948.80" y="133.68" width="1.4" height="8.52" fill="#e66764"/>
<line x1="951.56" y1="142.10" x2="951.56" y2="146.73" stroke="#e66764" stroke-width="0.7"/>
<rect x="950.86" y="142.20" width="1.4" height="4.20" fill="#e66764"/>
<line x1="953.62" y1="145.07" x2="953.62" y2="151.62" stroke="#e66764" stroke-width="0.7"/>
<rect x="952.92" y="146.41" width="1.4" height="4.86" fill="#e66764"/>
<line x1="955.68" y1="151.09" x2="955.68" y2="155.00" stroke="#e66764" stroke-width="0.7"/>
<rect x="954.98" y="151.27" width="1.4" height="2.12" fill="#e66764"/>
<line x1="957.74" y1="151.06" x2="957.74" y2="154.68" stroke="#98d957" stroke-width="0.7"/>
<rect x="957.04" y="153.05" width="1.4" height="0.80" fill="#98d957"/>
<line x1="959.80" y1="146.78" x2="959.80" y2="153.65" stroke="#98d957" stroke-width="0.7"/>
<rect x="959.10" y="146.82" width="1.4" height="6.23" fill="#98d957"/>
<line x1="961.86" y1="141.64" x2="961.86" y2="150.62" stroke="#98d957" stroke-width="0.7"/>
<rect x="961.16" y="142.03" width="1.4" height="4.79" fill="#98d957"/>
<line x1="963.92" y1="138.93" x2="963.92" y2="144.18" stroke="#98d957" stroke-width="0.7"/>
<rect x="963.22" y="138.99" width="1.4" height="3.05" fill="#98d957"/>
<line x1="965.98" y1="136.85" x2="965.98" y2="139.35" stroke="#98d957" stroke-width="0.7"/>
<rect x="965.28" y="137.98" width="1.4" height="1.00" fill="#98d957"/>
<line x1="968.04" y1="132.25" x2="968.04" y2="140.44" stroke="#e66764" stroke-width="0.7"/>
<rect x="967.34" y="137.98" width="1.4" height="2.00" fill="#e66764"/>
<line x1="970.10" y1="132.70" x2="970.10" y2="145.82" stroke="#98d957" stroke-width="0.7"/>
<rect x="969.40" y="134.86" width="1.4" height="5.12" fill="#98d957"/>
<line x1="972.16" y1="134.58" x2="972.16" y2="136.22" stroke="#e66764" stroke-width="0.7"/>
<rect x="971.46" y="134.86" width="1.4" height="0.80" fill="#e66764"/>
<line x1="974.22" y1="133.86" x2="974.22" y2="143.72" stroke="#e66764" stroke-width="0.7"/>
<rect x="973.52" y="135.08" width="1.4" height="3.71" fill="#e66764"/>
<line x1="976.28" y1="137.97" x2="976.28" y2="141.55" stroke="#e66764" stroke-width="0.7"/>
<rect x="975.58" y="138.78" width="1.4" height="2.72" fill="#e66764"/>
 <!-- price tag -->
 <rect x="999" y="137.3" width="27.5" height="9.6" rx="1" fill="#e4504c"/>
 <!-- toolbar seps -->
 <g stroke="#2a2a2a" stroke-width="1">
  <line x1="306.3" y1="51.6" x2="306.3" y2="63"/><line x1="333.5" y1="51.6" x2="333.5" y2="63"/>
  <line x1="402.8" y1="51.6" x2="402.8" y2="63"/><line x1="959.5" y1="51.7" x2="959.5" y2="63.2"/>
  <line x1="220.5" y1="247" x2="242" y2="247"/><line x1="220.5" y1="298" x2="242" y2="298"/>
 </g>
 <!-- toolbar icons -->
 <path d="M295 56.2 L297.3 58.5 L299.6 56.2" fill="none" stroke="#bdbdbd" stroke-width="0.8"/>
 <g fill="none" stroke="#cfcfcf" stroke-width="0.9">
  <rect x="315.8" y="53.4" width="2.6" height="7.4"/><path d="M317.1 51.6 V53.4 M317.1 60.8 V62.6"/>
  <rect x="320.6" y="54.6" width="2.6" height="5"/><path d="M321.9 52.2 V54.6 M321.9 59.6 V62"/>
 </g>
 <path d="M349.6 52.6 C348.6 51.6 346.9 51.8 346.6 53.8 L345.4 60.8 C345.1 62.8 343.6 63.1 342.6 62.2 M344.1 55.9 H348.3" fill="none" stroke="#cfcfcf" stroke-width="0.9"/>
 <path d="M347.6 59.6 L350.4 62.4 M350.4 59.6 L347.6 62.4" stroke="#cfcfcf" stroke-width="0.7"/>
 <path d="M413 55.5 L415.5 53 M413 55.5 L415.5 58 M413 55.5 H418 A3 3 0 0 1 421 58.5 V60" fill="none" stroke="#cfcfcf" stroke-width="0.9"/>
 <path d="M444.6 55.5 L442.1 53 M444.6 55.5 L442.1 58 M444.6 55.5 H439.6 A3 3 0 0 0 436.6 58.5 V60" fill="none" stroke="#666" stroke-width="0.9"/>
 <path d="M948.8 56.2 L951.2 58.6 L953.6 56.2" fill="none" stroke="#bdbdbd" stroke-width="0.8"/>
 <!-- gear -->
 <g fill="none" stroke="#cfcfcf" stroke-width="0.9">
  <path d="M973.5 51.2 L975.3 52.3 L977.4 52.2 L977.9 54.3 L979.5 55.7 L978.6 57.5 L979.5 59.3 L977.9 60.7 L977.4 62.8 L975.3 62.7 L973.5 63.8 L971.7 62.7 L969.6 62.8 L969.1 60.7 L967.5 59.3 L968.4 57.5 L967.5 55.7 L969.1 54.3 L969.6 52.2 L971.7 52.3 Z"/>
  <circle cx="973.5" cy="57.5" r="2"/>
  <!-- fullscreen -->
  <path d="M990.8 55 V52.4 H993.4 M998.4 52.4 H1001 V55 M1001 60 V62.6 H998.4 M993.4 62.6 H990.8 V60"/>
  <!-- camera -->
  <path d="M1011.8 54.2 H1014.6 L1015.9 52.4 H1020.7 L1022 54.2 H1024.8 V62.4 H1011.8 Z"/>
  <circle cx="1018.3" cy="58.2" r="2.4"/>
 </g>
 <!-- left drawing tools -->
 <g fill="none" stroke="#c9c9c9" stroke-width="0.9">
  <path d="M231 78.8 V83.9 M231 87.4 V92 M223.9 85.6 H229.3 M232.9 85.6 H238.4" stroke="#aab592" stroke-width="1"/>
  <path d="M226.8 110.4 L235.8 101.8"/><circle cx="226" cy="111.2" r="1.1"/><circle cx="236.6" cy="101" r="1.1"/>
  <path d="M224.5 122.5 H237.5 M224.5 125.5 H237.5 M224.5 128.5 H237.5 M224.5 131.5 H237.5"/><circle cx="236.5" cy="125.5" r="1"/><circle cx="225.5" cy="131.5" r="1"/>
  <path d="M225 153.5 C224.6 150 227.5 146.5 231 146.5 L234 149.5 C234 153 229 154 225 153.5 Z M232.5 148 L237.5 143"/>
  <path d="M226 163.2 H236 M226 163.2 V164.6 M236 163.2 V164.6 M231 163.2 V175.3 M229 175.3 H233" stroke-width="0.75"/>
  <path d="M225.5 196 L227.5 184.5 L231.3 191.5 L235 184.5 L237 196 M227.5 184.5 L235 184.5"/><circle cx="225.5" cy="196" r="0.9"/><circle cx="237" cy="196" r="0.9"/><circle cx="227.5" cy="184.5" r="0.9"/><circle cx="235" cy="184.5" r="0.9"/>
  <path d="M224.5 207.5 H238 M224.5 213 H238 M224.5 218.5 H238"/><circle cx="225.5" cy="207.5" r="1.1"/><circle cx="225.5" cy="218.5" r="1.1"/><circle cx="236.8" cy="207.5" r="1.1"/><circle cx="236.8" cy="218.5" r="1.1"/>
  <circle cx="231.3" cy="233" r="6.2"/><path d="M228.3 235 C229.5 236.8 233.1 236.8 234.3 235"/><circle cx="229.2" cy="231.2" r="0.4"/><circle cx="233.4" cy="231.2" r="0.4"/>
  <path d="M224.8 265.3 L233.5 256.6 L237.6 260.7 L228.9 269.4 Z M227.2 265.5 L228.6 266.9 M229.3 263.4 L230.7 264.8 M231.4 261.3 L232.8 262.7 M233.5 259.2 L234.9 260.6"/>
  <circle cx="230.3" cy="282" r="4.6"/><path d="M233.6 285.3 L237.3 289 M230.3 279.8 V284.2 M228.1 282 H232.5"/>
  <path d="M226.3 317 V311 A5 5 0 0 1 236.3 311 V317 H233.6 V311 A2.3 2.3 0 0 0 229 311 V317 Z M226.3 314.8 H229 M233.6 314.8 H236.3"/>
  <path d="M225.5 334 L232 327.5 L234 329.5 L227.5 336 L225 336.5 Z"/><rect x="232" y="333.5" width="5" height="4" rx="0.6"/><path d="M233.2 333.5 V332.2 A1.3 1.3 0 0 1 235.8 332.2 V333.5"/>
 </g>
 <path d="M246.3 301.6 L244.6 303.3 L246.3 305" fill="none" stroke="#8a8a8a" stroke-width="0.8"/>
 <!-- tv logo -->
 <circle cx="265.6" cy="308.8" r="10.8" fill="#1b1f2d" stroke="#2a3040" stroke-width="0.6"/>
 <path d="M259.4 305.2 H264.4 V312.6 H262.2 V307.4 H259.4 Z" fill="#f2f2f2"/>
 <circle cx="266.4" cy="306.3" r="1.1" fill="#f2f2f2"/>
 <path d="M268.8 305.2 H271.7 L268.4 312.6 H265.6 Z" fill="#f2f2f2"/>
 <!-- settings bottom right -->
 <g fill="none" stroke="#bdbdbd" stroke-width="0.8">
  <path d="M1015.2 330.6 L1019.2 332.9 V337.5 L1015.2 339.8 L1011.2 337.5 V332.9 Z"/><circle cx="1015.2" cy="335.2" r="1.6"/>
 </g>
</svg>

<!-- ============ BOTTOM PANEL ============ -->
<div class="a" style="left:214px;top:349px;width:815px;height:90px;background:#121212;border-radius:4px"></div>
<div class="a" style="left:417px;top:349px;width:612px;height:21px;background:#111111;border-left:1px solid #191919;border-bottom:1px solid #1a1a1a;border-radius:0 4px 0 4px"></div>
<!-- pair pill -->
<div class="a" style="left:224px;top:403.2px;width:57px;height:18.5px;background:#51722e;border-radius:3px 0 0 3px"></div>
<div class="a" style="left:281px;top:403.2px;width:56.5px;height:18.5px;background:#3e2220;border-radius:0 3px 3px 0"></div>
<!-- buttons -->
<div class="a" style="left:947.5px;top:402px;width:36.7px;height:21px;background:#8fd14f;border-radius:3px"></div>
<div class="a" style="left:988.3px;top:402px;width:33.7px;height:21px;background:#8fd14f;border-radius:3px"></div>
<svg class="a" style="left:0;top:340px" width="1032" height="95" viewBox="0 340 1032 95">
 <g fill="none" stroke="#a0a0a0" stroke-width="0.9">
  <path d="M244.3 381.5 V388 M243 382.8 L244.3 381.5 L245.6 382.8 M248.6 381.5 V388 M247.3 386.7 L248.6 388 L249.9 386.7"/>
  <path d="M401.6 381.5 V388 M400.3 382.8 L401.6 381.5 L402.9 382.8 M405.9 381.5 V388 M404.6 386.7 L405.9 388 L407.2 386.7"/>
  <path d="M512.6 381.5 V388 M511.3 382.8 L512.6 381.5 L513.9 382.8 M516.9 381.5 V388 M515.6 386.7 L516.9 388 L518.2 386.7"/>
  <path d="M635.8 381.5 V388 M634.5 382.8 L635.8 381.5 L637.1 382.8 M640.1 381.5 V388 M638.8 386.7 L640.1 388 L641.4 386.7"/>
  <path d="M719.2 381.5 V388 M717.9 382.8 L719.2 381.5 L720.5 382.8 M723.5 381.5 V388 M722.2 386.7 L723.5 388 L724.8 386.7"/>
  <path d="M806 381.5 V388 M804.7 382.8 L806 381.5 L807.3 382.8 M810.3 381.5 V388 M809 386.7 L810.3 388 L811.6 386.7"/>
 </g>
 <!-- pill icons -->
 <g stroke="#7d9a5e" stroke-width="0.8">
 <circle cx="233.3" cy="412.6" r="4.3" fill="#34437a"/>
 <circle cx="240.9" cy="412.6" r="4.3" fill="#2ccf3a"/>
 <circle cx="248.4" cy="412.6" r="4.3" fill="#eef5e4"/>
 <circle cx="255.4" cy="412.6" r="4.3" fill="#141a26"/>
 <circle cx="262.6" cy="412.6" r="4.3" fill="#3f8a4c"/>
 <circle cx="271.1" cy="412.6" r="4.3" fill="#a6dc6a"/>
 </g>
 <path d="M233.3 409.6 L235 412.5 L233.3 413.5 L231.6 412.5 Z M233.3 414 L235 413 L233.3 415.6 L231.6 413 Z" fill="#d8e0ff"/>
 <path d="M239.3 414.8 L242.6 410.6 L242.2 413.2 Z" fill="#0e4a12"/>
 <path d="M250.2 411.5 A2.1 2.1 0 1 0 250.5 413 H248.6" fill="none" stroke="#777" stroke-width="0.9"/>
 <path d="M253.6 411.2 H257.2 M253.6 412.6 H257.2 M253.6 414 H257.2" stroke="#7d74cf" stroke-width="0.7"/>
 <g fill="#8ff0d0"><ellipse cx="260.9" cy="412.6" rx="1.8" ry="2.5"/><ellipse cx="264.3" cy="412.6" rx="1.8" ry="2.5"/><rect x="260.9" y="411.7" width="3.4" height="1.8"/></g>
 <path d="M269.6 414.1 L272.6 411.1" stroke="#e6f6d6" stroke-width="1.4" stroke-linecap="round"/>
 <circle cx="298.6" cy="412.5" r="5.2" fill="#2766b8" stroke="#15243d" stroke-width="0.7"/><path d="M296.51 409.52 A3.64 3.64 0 0 0 296.51 415.48 M300.69 409.52 A3.64 3.64 0 0 1 300.69 415.48" fill="none" stroke="#c4e0ff" stroke-width="0.9"/><text x="298.6" y="414.37" text-anchor="middle" font-family="Liberation Sans" font-weight="bold" font-size="5.46" fill="#c4e0ff">$</text>
 <!-- share + info -->
 <g fill="#86c957"><circle cx="817.3" cy="412.5" r="1.6"/><circle cx="823.5" cy="409" r="1.6"/><circle cx="823.5" cy="416" r="1.6"/></g>
 <path d="M817.3 412.5 L823.5 409 M817.3 412.5 L823.5 416" stroke="#86c957" stroke-width="0.9"/>
 <circle cx="832" cy="412.5" r="3.2" fill="none" stroke="#8a8a8a" stroke-width="0.6"/>
 <path d="M832 411.8 V414.2 M832 410.6 V411" stroke="#8a8a8a" stroke-width="0.6"/>
</svg>

<div class="t" style="left:12.00px;top:9.11px;font-size:8.7px;font-weight:700;color:#c4c4c4;letter-spacing:-0.189px;">Market Order</div>
<div class="t" style="left:82.00px;top:38.80px;font-size:8.0px;font-weight:700;color:#5b9fa3;letter-spacing:-0.602px;">Hyperliquid</div>
<div class="t" style="left:18.70px;top:71.03px;font-size:7.5px;font-weight:400;color:#a4a4a4;letter-spacing:-0.263px;">Overall:</div>
<div class="t" style="left:50.80px;top:70.22px;font-size:8.8px;font-weight:700;color:#93cc63;letter-spacing:-0.333px;">100%</div>
<div class="t" style="left:76.50px;top:70.05px;font-size:9.0px;font-weight:400;color:#8a8a8a;">/</div>
<div class="t" style="left:85.00px;top:70.22px;font-size:8.8px;font-weight:700;color:#e26a66;letter-spacing:-0.219px;">0%</div>
<div class="t" style="left:129.50px;top:70.50px;font-size:8.0px;font-weight:700;color:#9ccc65;letter-spacing:-0.504px;">Rebalance Weight</div>
<div class="t" style="left:18.70px;top:104.23px;font-size:8.9px;font-weight:700;color:#f4f4f4;letter-spacing:-0.411px;">Long Assets (7)</div>
<div class="t" style="left:18.60px;top:377.24px;font-size:8.9px;font-weight:700;color:#e6e6e6;letter-spacing:-0.402px;">Short Assets (1)</div>
<div class="t" style="left:48.50px;top:405.11px;font-size:8.7px;font-weight:700;color:#f4f4f4;letter-spacing:-0.542px;">USDC</div>
<div class="t" style="left:48.80px;top:128.50px;font-size:8.0px;font-weight:700;color:#f4f4f4;">ETH</div>
<div class="t" style="left:48.80px;top:138.74px;font-size:7.6px;font-weight:700;color:#ececec;">$3,021.2</div>
<div class="t" style="left:155.60px;top:133.37px;font-size:7.8px;font-weight:700;color:#e8e8e8;letter-spacing:-0.488px;">16</div>
<div class="t" style="left:165.30px;top:132.91px;font-size:7.4px;font-weight:400;color:#a8a8a8;">%</div>
<div class="t" style="left:48.80px;top:161.50px;font-size:8.0px;font-weight:700;color:#f4f4f4;">HOOD</div>
<div class="t" style="left:48.80px;top:171.74px;font-size:7.6px;font-weight:700;color:#ececec;">$128.66</div>
<div class="t" style="left:155.60px;top:166.37px;font-size:7.8px;font-weight:700;color:#e8e8e8;letter-spacing:-0.488px;">14</div>
<div class="t" style="left:165.30px;top:165.91px;font-size:7.4px;font-weight:400;color:#a8a8a8;">%</div>
<div class="t" style="left:48.80px;top:194.50px;font-size:8.0px;font-weight:700;color:#f4f4f4;">GOOGL</div>
<div class="t" style="left:48.80px;top:204.74px;font-size:7.6px;font-weight:700;color:#ececec;">$319.50</div>
<div class="t" style="left:155.60px;top:199.37px;font-size:7.8px;font-weight:700;color:#e8e8e8;letter-spacing:-0.488px;">14</div>
<div class="t" style="left:165.30px;top:198.91px;font-size:7.4px;font-weight:400;color:#a8a8a8;">%</div>
<div class="t" style="left:48.80px;top:227.50px;font-size:8.0px;font-weight:700;color:#f4f4f4;">SOL</div>
<div class="t" style="left:48.80px;top:237.74px;font-size:7.6px;font-weight:700;color:#ececec;">$143.28</div>
<div class="t" style="left:155.60px;top:232.37px;font-size:7.8px;font-weight:700;color:#e8e8e8;letter-spacing:-0.488px;">14</div>
<div class="t" style="left:165.30px;top:231.91px;font-size:7.4px;font-weight:400;color:#a8a8a8;">%</div>
<div class="t" style="left:48.80px;top:260.50px;font-size:8.0px;font-weight:700;color:#f4f4f4;">HYPE</div>
<div class="t" style="left:48.80px;top:270.74px;font-size:7.6px;font-weight:700;color:#ececec;">$35.282</div>
<div class="t" style="left:155.60px;top:265.37px;font-size:7.8px;font-weight:700;color:#e8e8e8;letter-spacing:-0.488px;">14</div>
<div class="t" style="left:165.30px;top:264.91px;font-size:7.4px;font-weight:400;color:#a8a8a8;">%</div>
<div class="t" style="left:48.80px;top:293.50px;font-size:8.0px;font-weight:700;color:#f4f4f4;">PUMP</div>
<div class="t" style="left:48.80px;top:303.74px;font-size:7.6px;font-weight:700;color:#ececec;">$0.0028890</div>
<div class="t" style="left:155.60px;top:298.37px;font-size:7.8px;font-weight:700;color:#e8e8e8;letter-spacing:-0.488px;">14</div>
<div class="t" style="left:165.30px;top:297.91px;font-size:7.4px;font-weight:400;color:#a8a8a8;">%</div>
<div class="t" style="left:48.80px;top:326.50px;font-size:8.0px;font-weight:700;color:#f4f4f4;">XRP</div>
<div class="t" style="left:48.80px;top:336.74px;font-size:7.6px;font-weight:700;color:#ececec;">$2.2248</div>
<div class="t" style="left:155.60px;top:331.37px;font-size:7.8px;font-weight:700;color:#e8e8e8;letter-spacing:-0.488px;">14</div>
<div class="t" style="left:165.30px;top:330.91px;font-size:7.4px;font-weight:400;color:#a8a8a8;">%</div>
<div class="t" style="left:318.00px;top:16.69px;font-size:8.6px;font-weight:700;color:#f4f4f4;letter-spacing:-0.653px;">USDC</div>
<div class="t" style="left:294.50px;top:16.50px;font-size:10px;font-weight:400;color:#f0f0f0;">/</div>
<div class="t" style="left:380.80px;top:8.91px;font-size:7.4px;font-weight:700;color:#999999;letter-spacing:-0.263px;">Price Ratio</div>
<div class="t" style="left:380.80px;top:21.93px;font-size:9.5px;font-weight:700;color:#f4f4f4;">-</div>
<div class="t" style="left:435.90px;top:9.12px;font-size:7.5px;font-weight:700;color:#999999;letter-spacing:-0.343px;">Weighted Ratio</div>
<div class="t" style="left:435.90px;top:22.40px;font-size:10.0px;font-weight:700;color:#f6f6f6;">25.967</div>
<div class="t" style="left:472.00px;top:25.13px;font-size:6.2px;font-weight:700;color:#9ccc65;letter-spacing:-0.149px;">+0.90064 / +3.5931%</div>
<div class="t" style="left:552.90px;top:11.22px;font-size:6.8px;font-weight:400;color:#a8a8a8;letter-spacing:-0.277px;">Net Funding / Countdown</div>
<div class="t" style="left:552.40px;top:22.68px;font-size:7.2px;font-weight:700;color:#e5524e;letter-spacing:-0.283px;">-0.0006%</div>
<div class="t" style="left:587.00px;top:22.68px;font-size:7.2px;font-weight:700;color:#f4f4f4;letter-spacing:-0.069px;">00:32:25</div>
<div class="t" style="left:221.30px;top:53.69px;font-size:8.6px;font-weight:400;color:#cfcfcf;letter-spacing:-0.359px;">15m</div>
<div class="t" style="left:245.80px;top:53.69px;font-size:8.6px;font-weight:400;color:#cfcfcf;letter-spacing:-1.162px;">1h</div>
<div class="t" style="left:261.70px;top:53.69px;font-size:8.6px;font-weight:400;color:#cfcfcf;">D</div>
<div class="t" style="left:276.00px;top:53.69px;font-size:8.6px;font-weight:400;color:#a9c48e;letter-spacing:-1.453px;">1m</div>
<div class="t" style="left:356.70px;top:53.69px;font-size:8.6px;font-weight:400;color:#cfcfcf;">Indicators</div>
<div class="t" style="left:917.30px;top:50.99px;font-size:8.6px;font-weight:400;color:#cfcfcf;letter-spacing:-0.531px;">Save</div>
<div class="t" style="left:919.60px;top:59.86px;font-size:6.4px;font-weight:400;color:#86c04c;letter-spacing:-0.526px;">Save</div>
<div class="t" style="left:1004.00px;top:90.60px;font-size:8.0px;font-weight:400;color:#b4b4b4;">26.20</div>
<div class="t" style="left:1004.00px;top:125.00px;font-size:8.0px;font-weight:400;color:#b4b4b4;">26.00</div>
<div class="t" style="left:1004.00px;top:159.40px;font-size:8.0px;font-weight:400;color:#b4b4b4;">25.80</div>
<div class="t" style="left:1004.00px;top:194.00px;font-size:8.0px;font-weight:400;color:#b4b4b4;">25.60</div>
<div class="t" style="left:1004.00px;top:228.20px;font-size:8.0px;font-weight:400;color:#b4b4b4;">25.40</div>
<div class="t" style="left:1004.00px;top:262.60px;font-size:8.0px;font-weight:400;color:#b4b4b4;">25.20</div>
<div class="t" style="left:1004.00px;top:297.00px;font-size:8.0px;font-weight:400;color:#b4b4b4;">25.00</div>
<div class="t" style="left:308.70px;top:330.74px;font-size:7.6px;font-weight:700;color:#c4c4c4;letter-spacing:0.049px;">3:00 PM</div>
<div class="t" style="left:371.20px;top:330.74px;font-size:7.6px;font-weight:400;color:#a4a4a4;letter-spacing:-0.114px;">3:30 PM</div>
<div class="t" style="left:432.30px;top:330.74px;font-size:7.6px;font-weight:700;color:#c4c4c4;letter-spacing:0.049px;">4:00 PM</div>
<div class="t" style="left:494.80px;top:330.74px;font-size:7.6px;font-weight:400;color:#a4a4a4;letter-spacing:-0.114px;">4:30 PM</div>
<div class="t" style="left:555.90px;top:330.74px;font-size:7.6px;font-weight:700;color:#c4c4c4;letter-spacing:0.049px;">5:00 PM</div>
<div class="t" style="left:618.40px;top:330.74px;font-size:7.6px;font-weight:400;color:#a4a4a4;letter-spacing:-0.114px;">5:30 PM</div>
<div class="t" style="left:679.50px;top:330.74px;font-size:7.6px;font-weight:700;color:#c4c4c4;letter-spacing:0.049px;">6:00 PM</div>
<div class="t" style="left:742.00px;top:330.74px;font-size:7.6px;font-weight:400;color:#a4a4a4;letter-spacing:-0.114px;">6:30 PM</div>
<div class="t" style="left:803.10px;top:330.74px;font-size:7.6px;font-weight:700;color:#c4c4c4;letter-spacing:0.049px;">7:00 PM</div>
<div class="t" style="left:865.60px;top:330.74px;font-size:7.6px;font-weight:400;color:#a4a4a4;letter-spacing:-0.114px;">7:30 PM</div>
<div class="t" style="left:926.70px;top:330.74px;font-size:7.6px;font-weight:700;color:#c4c4c4;letter-spacing:0.049px;">8:00 PM</div>
<div class="t" style="left:286.25px;top:357.54px;font-size:7.6px;font-weight:700;color:#f2f2f2;letter-spacing:-0.388px;">Open Positions (2)</div>
<div class="t" style="left:506.20px;top:357.54px;font-size:7.6px;font-weight:400;color:#858585;letter-spacing:-0.532px;">TWAP (1)</div>
<div class="t" style="left:698.00px;top:357.54px;font-size:7.6px;font-weight:400;color:#858585;letter-spacing:-0.135px;">Open Orders (0)</div>
<div class="t" style="left:898.95px;top:357.54px;font-size:7.6px;font-weight:400;color:#858585;letter-spacing:-0.100px;">Trade History</div>
<div class="t" style="left:223.80px;top:381.14px;font-size:7.6px;font-weight:700;color:#9c9c9c;letter-spacing:-0.420px;">Pair</div>
<div class="t" style="left:375.90px;top:381.14px;font-size:7.6px;font-weight:700;color:#9c9c9c;letter-spacing:-0.386px;">Value</div>
<div class="t" style="left:487.00px;top:381.14px;font-size:7.6px;font-weight:700;color:#9c9c9c;letter-spacing:-0.380px;">Entry</div>
<div class="t" style="left:610.70px;top:381.14px;font-size:7.6px;font-weight:700;color:#9c9c9c;letter-spacing:-0.111px;">Mark</div>
<div class="t" style="left:700.20px;top:381.14px;font-size:7.6px;font-weight:700;color:#9c9c9c;letter-spacing:-0.658px;">Lvg</div>
<div class="t" style="left:785.90px;top:381.14px;font-size:7.6px;font-weight:700;color:#9c9c9c;letter-spacing:-0.772px;">PnL</div>
<div class="t" style="left:892.60px;top:381.14px;font-size:7.6px;font-weight:700;color:#dadada;letter-spacing:-0.483px;">TP/SL</div>
<div class="t" style="left:969.80px;top:381.14px;font-size:7.6px;font-weight:700;color:#9ccc65;letter-spacing:-0.252px;">Close All</div>
<div class="t" style="left:376.30px;top:408.46px;font-size:8.4px;font-weight:700;color:#f4f4f4;letter-spacing:-0.477px;">$149,934</div>
<div class="t" style="left:475.40px;top:410.44px;font-size:5.6px;font-weight:400;color:#8a8a8a;">P</div>
<div class="t" style="left:481.20px;top:408.80px;font-size:8.0px;font-weight:700;color:#f4f4f4;letter-spacing:-0.494px;">25.101</div>
<div class="t" style="left:503.50px;top:409.50px;font-size:6px;font-weight:400;color:#777;">·</div>
<div class="t" style="left:507.60px;top:409.90px;font-size:6.0px;font-weight:400;color:#8e8e8e;letter-spacing:-0.176px;">$149,901</div>
<div class="t" style="left:610.90px;top:410.44px;font-size:5.6px;font-weight:400;color:#8a8a8a;">P</div>
<div class="t" style="left:617.00px;top:408.80px;font-size:8.0px;font-weight:700;color:#f4f4f4;letter-spacing:-0.394px;">25.107</div>
<div class="t" style="left:640.80px;top:409.50px;font-size:6px;font-weight:400;color:#777;">·</div>
<div class="t" style="left:706.60px;top:408.46px;font-size:8.4px;font-weight:700;color:#f4f4f4;letter-spacing:-0.692px;">10x</div>
<div class="t" style="left:762.80px;top:408.46px;font-size:8.4px;font-weight:700;color:#93cc5e;letter-spacing:-0.403px;">+$33.73</div>
<div class="t" style="left:792.60px;top:409.73px;font-size:6.2px;font-weight:700;color:#8cbf5c;letter-spacing:-0.095px;">(0.22%)</div>
<div class="t" style="left:893.00px;top:408.74px;font-size:7.6px;font-weight:400;color:#c2c2c2;letter-spacing:-0.160px;">+ Add</div>
<div class="t" style="left:955.00px;top:408.00px;font-size:8.0px;font-weight:700;color:#1c2a12;letter-spacing:-0.638px;">Adjust</div>
<div class="t" style="left:995.80px;top:408.00px;font-size:8.0px;font-weight:700;color:#1c2a12;letter-spacing:-0.649px;">Close</div>
<div class="t" style="left:104.80px;top:359.84px;font-size:5.6px;font-weight:700;color:#9a9a9a;">$</div>
<div class="t" style="left:307.00px;top:408.74px;font-size:7.6px;font-weight:700;color:#f4f4f4;letter-spacing:-0.910px;">USDC</div>
<div class="t" style="left:1001.5px;top:138.2px;font-size:8px;color:#fff">25.93</div>
</body></html>
